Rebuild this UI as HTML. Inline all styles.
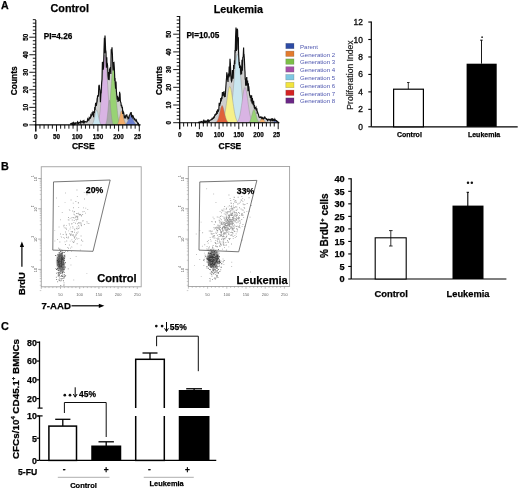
<!DOCTYPE html>
<html><head><meta charset="utf-8"><style>
html,body{margin:0;padding:0;background:#fff;}
svg{display:block;font-family:"Liberation Sans", sans-serif;will-change:transform;}
text{color:#000;}
text[font-weight="bold"]{stroke:currentColor;stroke-width:0.25px;}
</style></head><body>
<svg width="520" height="488" viewBox="0 0 520 488">
<text x="1.0" y="8.7" font-size="10.6" font-weight="bold" text-anchor="start" fill="#000">A</text>
<text x="1.0" y="169.6" font-size="10.8" font-weight="bold" text-anchor="start" fill="#000">B</text>
<text x="1.0" y="330.4" font-size="10.8" font-weight="bold" text-anchor="start" fill="#000">C</text>
<path d="M70.0 124.9L70.0 124.0L70.4 123.9L70.8 123.8L71.2 123.7L71.6 123.9L72.0 123.3L72.4 124.2L72.8 123.4L73.2 124.3L73.6 122.7L74.0 123.3L74.4 124.5L74.8 124.2L75.0 123.5L75.2 124.0L75.6 123.7L76.0 122.8L76.4 123.0L76.8 122.9L77.2 123.4L77.6 121.8L78.0 122.3L78.4 123.4L78.8 123.6L79.2 122.6L79.6 122.5L80.0 122.5L80.4 121.4L80.8 123.1L81.2 121.7L81.6 121.5L82.0 122.0L82.4 121.6L82.8 122.2L83.2 120.3L83.6 122.1L84.0 121.0L84.4 122.4L84.8 121.5L85.2 121.6L85.6 121.8L86.0 122.0L86.4 121.8L86.8 121.8L87.2 121.6L87.6 119.2L88.0 120.0L88.4 119.4L88.8 120.0L89.2 117.8L89.6 118.6L90.0 118.0L90.4 118.1L90.8 115.3L91.2 116.2L91.6 115.2L92.0 113.6L92.1 112.4L92.4 113.8L92.8 112.5L93.2 114.4L93.5 116.0L93.6 117.1L94.0 111.1L94.4 112.9L94.8 107.0L95.0 108.0L95.2 108.4L95.6 102.8L96.0 105.2L96.4 105.4L96.8 102.7L97.0 100.0L97.2 100.4L97.6 95.2L98.0 96.5L98.4 96.1L98.8 86.2L99.2 84.8L99.6 88.5L100.0 90.3L100.3 98.0L100.4 102.2L100.8 93.9L101.2 92.7L101.5 85.0L101.6 83.0L102.0 79.2L102.4 62.0L102.5 70.0L102.8 61.8L103.2 69.7L103.6 66.8L104.0 50.0L104.4 37.7L104.8 53.2L105.0 35.6L105.2 39.1L105.6 49.8L106.0 52.0L106.4 67.8L106.8 57.3L107.0 66.0L107.2 62.8L107.6 65.8L108.0 76.0L108.4 79.8L108.8 72.0L109.0 80.0L109.2 79.3L109.6 68.6L110.0 69.8L110.4 67.0L110.5 68.0L110.8 73.9L111.2 49.3L111.6 52.0L112.0 47.3L112.2 51.5L112.4 54.1L112.8 66.2L113.2 70.5L113.5 62.0L113.6 63.9L114.0 63.2L114.4 68.7L114.8 81.0L115.0 78.0L115.2 82.8L115.6 88.6L116.0 81.6L116.4 91.1L116.5 92.0L116.8 95.7L117.2 99.8L117.6 95.9L118.0 102.0L118.4 97.3L118.8 98.4L119.2 100.9L119.6 91.7L119.8 95.0L120.0 93.4L120.4 101.6L120.8 102.4L121.0 103.0L121.2 106.2L121.6 104.8L122.0 108.1L122.4 106.7L122.8 114.0L123.0 112.0L123.2 111.6L123.6 112.5L124.0 114.7L124.4 117.7L124.8 117.4L125.0 117.0L125.2 116.4L125.6 118.5L126.0 116.2L126.4 115.6L126.8 114.4L127.0 116.0L127.2 116.2L127.6 117.4L128.0 118.7L128.4 117.8L128.5 118.0L128.8 118.2L129.2 115.9L129.6 114.9L130.0 114.8L130.4 113.1L130.8 113.2L131.2 112.1L131.6 116.5L132.0 116.0L132.4 115.6L132.8 117.4L133.2 116.4L133.6 117.4L134.0 119.0L134.4 119.6L134.8 118.9L135.2 119.6L135.6 120.4L136.0 121.0L136.4 120.2L136.8 121.6L137.2 122.1L137.5 123.0L137.6 123.1L138.0 123.8L138.4 123.4L138.8 124.9L139.0 124.4L139.0 124.9Z" fill="#cfcfcf" stroke="none"/>
<path d="M96.8 124.9L96.8 124.1L97.2 123.7L97.7 123.1L98.1 122.2L98.5 120.9L98.9 119.3L99.3 117.1L99.7 114.3L100.1 110.9L100.5 106.7L100.9 101.9L101.3 96.4L101.7 90.4L102.1 84.1L102.5 77.7L102.9 71.6L103.3 66.0L103.7 61.3L104.1 57.7L104.5 55.6L104.9 55.0L105.3 56.0L105.7 58.5L106.1 62.4L106.5 67.3L106.9 73.1L107.3 79.3L107.7 85.7L108.1 91.9L108.5 97.8L108.9 103.2L109.3 107.8L109.7 111.8L110.1 115.1L110.5 117.7L110.9 119.7L111.3 121.3L111.7 122.4L112.1 123.2L112.5 123.8L112.5 124.9Z" fill="#d9b4e4" stroke="#888" stroke-width="0.4"/>
<path d="M106.1 124.9L106.1 124.2L106.5 123.8L106.9 123.2L107.3 122.3L107.7 121.0L108.1 119.3L108.5 116.9L108.9 113.9L109.3 110.2L109.7 105.8L110.1 100.7L110.5 95.1L110.9 89.2L111.3 83.3L111.7 77.7L112.1 72.9L112.5 69.2L112.9 66.8L113.3 66.0L113.7 66.8L114.1 69.2L114.5 72.9L114.9 77.7L115.3 83.3L115.7 89.2L116.1 95.1L116.5 100.7L116.9 105.8L117.3 110.2L117.7 113.9L118.1 116.9L118.5 119.3L118.9 121.0L119.3 122.3L119.7 123.2L120.1 123.8L120.5 124.2L120.5 124.9Z" fill="#98d274" stroke="#888" stroke-width="0.4"/>
<path d="M105.2 124.9L105.2 124.6L105.6 124.3L106.0 123.6L106.4 122.4L106.8 120.5L107.2 117.7L107.6 114.0L108.0 109.8L108.4 105.6L108.8 102.2L109.2 100.3L109.6 100.3L110.0 102.2L110.4 105.6L110.8 109.8L111.2 114.0L111.6 117.7L112.0 120.5L112.4 122.4L112.8 123.6L113.2 124.3L113.6 124.6L113.6 124.9Z" fill="#a8a8a8" stroke="#888" stroke-width="0.4"/>
<path d="M91.2 124.9L91.2 124.7L91.6 124.6L92.0 124.3L92.4 123.9L92.8 123.3L93.2 122.4L93.6 121.2L94.0 119.7L94.4 117.8L94.8 115.9L95.2 113.9L95.6 112.1L96.0 110.8L96.4 110.1L96.8 110.1L97.2 110.8L97.6 112.1L98.0 113.9L98.4 115.9L98.8 117.8L99.2 119.7L99.6 121.2L100.0 122.4L100.4 123.3L100.8 123.9L101.2 124.3L101.6 124.6L102.0 124.7L102.0 124.9Z" fill="#c9e6f0" stroke="#888" stroke-width="0.4"/>
<path d="M116.2 124.9L116.2 124.7L116.6 124.6L117.0 124.4L117.4 124.0L117.8 123.4L118.2 122.5L118.6 121.4L119.0 119.9L119.4 118.2L119.8 116.3L120.2 114.5L120.6 112.8L121.0 111.6L121.4 110.9L121.8 110.9L122.2 111.6L122.6 112.8L123.0 114.5L123.4 116.3L123.8 118.2L124.2 119.9L124.6 121.4L125.0 122.5L125.4 123.4L125.8 124.0L126.2 124.4L126.6 124.6L127.0 124.7L127.0 124.9Z" fill="#f3ad6a" stroke="#888" stroke-width="0.4"/>
<path d="M124.2 124.9L124.2 124.8L124.6 124.7L125.0 124.6L125.4 124.4L125.8 124.1L126.2 123.8L126.6 123.3L127.0 122.6L127.4 121.8L127.8 120.9L128.2 119.9L128.6 118.8L129.0 117.7L129.4 116.7L129.8 115.8L130.2 115.2L130.6 114.8L131.0 114.8L131.4 115.2L131.8 115.8L132.2 116.7L132.6 117.7L133.0 118.8L133.4 119.9L133.8 120.9L134.2 121.8L134.6 122.6L135.0 123.3L135.4 123.8L135.8 124.1L136.2 124.4L136.6 124.6L137.0 124.7L137.4 124.8L137.4 124.9Z" fill="#6b7fd0" stroke="#888" stroke-width="0.4"/>
<path d="M70.0 124.0L70.4 123.9L70.8 123.8L71.2 123.7L71.6 123.9L72.0 123.3L72.4 124.2L72.8 123.4L73.2 124.3L73.6 122.7L74.0 123.3L74.4 124.5L74.8 124.2L75.0 123.5L75.2 124.0L75.6 123.7L76.0 122.8L76.4 123.0L76.8 122.9L77.2 123.4L77.6 121.8L78.0 122.3L78.4 123.4L78.8 123.6L79.2 122.6L79.6 122.5L80.0 122.5L80.4 121.4L80.8 123.1L81.2 121.7L81.6 121.5L82.0 122.0L82.4 121.6L82.8 122.2L83.2 120.3L83.6 122.1L84.0 121.0L84.4 122.4L84.8 121.5L85.2 121.6L85.6 121.8L86.0 122.0L86.4 121.8L86.8 121.8L87.2 121.6L87.6 119.2L88.0 120.0L88.4 119.4L88.8 120.0L89.2 117.8L89.6 118.6L90.0 118.0L90.4 118.1L90.8 115.3L91.2 116.2L91.6 115.2L92.0 113.6L92.1 112.4L92.4 113.8L92.8 112.5L93.2 114.4L93.5 116.0L93.6 117.1L94.0 111.1L94.4 112.9L94.8 107.0L95.0 108.0L95.2 108.4L95.6 102.8L96.0 105.2L96.4 105.4L96.8 102.7L97.0 100.0L97.2 100.4L97.6 95.2L98.0 96.5L98.4 96.1L98.8 86.2L99.2 84.8L99.6 88.5L100.0 90.3L100.3 98.0L100.4 102.2L100.8 93.9L101.2 92.7L101.5 85.0L101.6 83.0L102.0 79.2L102.4 62.0L102.5 70.0L102.8 61.8L103.2 69.7L103.6 66.8L104.0 50.0L104.4 37.7L104.8 53.2L105.0 35.6L105.2 39.1L105.6 49.8L106.0 52.0L106.4 67.8L106.8 57.3L107.0 66.0L107.2 62.8L107.6 65.8L108.0 76.0L108.4 79.8L108.8 72.0L109.0 80.0L109.2 79.3L109.6 68.6L110.0 69.8L110.4 67.0L110.5 68.0L110.8 73.9L111.2 49.3L111.6 52.0L112.0 47.3L112.2 51.5L112.4 54.1L112.8 66.2L113.2 70.5L113.5 62.0L113.6 63.9L114.0 63.2L114.4 68.7L114.8 81.0L115.0 78.0L115.2 82.8L115.6 88.6L116.0 81.6L116.4 91.1L116.5 92.0L116.8 95.7L117.2 99.8L117.6 95.9L118.0 102.0L118.4 97.3L118.8 98.4L119.2 100.9L119.6 91.7L119.8 95.0L120.0 93.4L120.4 101.6L120.8 102.4L121.0 103.0L121.2 106.2L121.6 104.8L122.0 108.1L122.4 106.7L122.8 114.0L123.0 112.0L123.2 111.6L123.6 112.5L124.0 114.7L124.4 117.7L124.8 117.4L125.0 117.0L125.2 116.4L125.6 118.5L126.0 116.2L126.4 115.6L126.8 114.4L127.0 116.0L127.2 116.2L127.6 117.4L128.0 118.7L128.4 117.8L128.5 118.0L128.8 118.2L129.2 115.9L129.6 114.9L130.0 114.8L130.4 113.1L130.8 113.2L131.2 112.1L131.6 116.5L132.0 116.0L132.4 115.6L132.8 117.4L133.2 116.4L133.6 117.4L134.0 119.0L134.4 119.6L134.8 118.9L135.2 119.6L135.6 120.4L136.0 121.0L136.4 120.2L136.8 121.6L137.2 122.1L137.5 123.0L137.6 123.1L138.0 123.8L138.4 123.4L138.8 124.9L139.0 124.4" fill="none" stroke="#111" stroke-width="1.15"/>
<line x1="35.8" y1="20" x2="35.8" y2="131.4" stroke="#000" stroke-width="1.1"/>
<line x1="34.8" y1="124.9" x2="140.54199999999997" y2="124.9" stroke="#000" stroke-width="1.1"/>
<line x1="29.299999999999997" y1="124.9" x2="35.8" y2="124.9" stroke="#000" stroke-width="0.9"/>
<line x1="32.8" y1="121.39200000000001" x2="35.8" y2="121.39200000000001" stroke="#000" stroke-width="0.9"/>
<line x1="32.8" y1="117.884" x2="35.8" y2="117.884" stroke="#000" stroke-width="0.9"/>
<line x1="32.8" y1="114.376" x2="35.8" y2="114.376" stroke="#000" stroke-width="0.9"/>
<line x1="32.8" y1="110.86800000000001" x2="35.8" y2="110.86800000000001" stroke="#000" stroke-width="0.9"/>
<line x1="29.299999999999997" y1="107.36000000000001" x2="35.8" y2="107.36000000000001" stroke="#000" stroke-width="0.9"/>
<line x1="32.8" y1="103.852" x2="35.8" y2="103.852" stroke="#000" stroke-width="0.9"/>
<line x1="32.8" y1="100.34400000000001" x2="35.8" y2="100.34400000000001" stroke="#000" stroke-width="0.9"/>
<line x1="32.8" y1="96.83600000000001" x2="35.8" y2="96.83600000000001" stroke="#000" stroke-width="0.9"/>
<line x1="32.8" y1="93.328" x2="35.8" y2="93.328" stroke="#000" stroke-width="0.9"/>
<line x1="29.299999999999997" y1="89.82000000000001" x2="35.8" y2="89.82000000000001" stroke="#000" stroke-width="0.9"/>
<line x1="32.8" y1="86.31200000000001" x2="35.8" y2="86.31200000000001" stroke="#000" stroke-width="0.9"/>
<line x1="32.8" y1="82.804" x2="35.8" y2="82.804" stroke="#000" stroke-width="0.9"/>
<line x1="32.8" y1="79.296" x2="35.8" y2="79.296" stroke="#000" stroke-width="0.9"/>
<line x1="32.8" y1="75.78800000000001" x2="35.8" y2="75.78800000000001" stroke="#000" stroke-width="0.9"/>
<line x1="29.299999999999997" y1="72.28" x2="35.8" y2="72.28" stroke="#000" stroke-width="0.9"/>
<line x1="32.8" y1="68.772" x2="35.8" y2="68.772" stroke="#000" stroke-width="0.9"/>
<line x1="32.8" y1="65.26400000000001" x2="35.8" y2="65.26400000000001" stroke="#000" stroke-width="0.9"/>
<line x1="32.8" y1="61.75600000000001" x2="35.8" y2="61.75600000000001" stroke="#000" stroke-width="0.9"/>
<line x1="32.8" y1="58.248000000000005" x2="35.8" y2="58.248000000000005" stroke="#000" stroke-width="0.9"/>
<line x1="29.299999999999997" y1="54.74000000000001" x2="35.8" y2="54.74000000000001" stroke="#000" stroke-width="0.9"/>
<line x1="32.8" y1="51.232" x2="35.8" y2="51.232" stroke="#000" stroke-width="0.9"/>
<line x1="32.8" y1="47.724000000000004" x2="35.8" y2="47.724000000000004" stroke="#000" stroke-width="0.9"/>
<line x1="32.8" y1="44.21600000000001" x2="35.8" y2="44.21600000000001" stroke="#000" stroke-width="0.9"/>
<line x1="32.8" y1="40.708" x2="35.8" y2="40.708" stroke="#000" stroke-width="0.9"/>
<line x1="29.299999999999997" y1="37.2" x2="35.8" y2="37.2" stroke="#000" stroke-width="0.9"/>
<line x1="32.8" y1="33.69200000000001" x2="35.8" y2="33.69200000000001" stroke="#000" stroke-width="0.9"/>
<line x1="32.8" y1="30.18400000000001" x2="35.8" y2="30.18400000000001" stroke="#000" stroke-width="0.9"/>
<line x1="32.8" y1="26.676000000000002" x2="35.8" y2="26.676000000000002" stroke="#000" stroke-width="0.9"/>
<line x1="32.8" y1="23.168000000000006" x2="35.8" y2="23.168000000000006" stroke="#000" stroke-width="0.9"/>
<line x1="32.8" y1="19.66000000000001" x2="35.8" y2="19.66000000000001" stroke="#000" stroke-width="0.9"/>
<text x="28.199999999999996" y="124.9" font-size="6.3" font-weight="bold" text-anchor="middle" fill="#000" transform="rotate(-90 28.199999999999996 124.9)">0</text>
<text x="28.199999999999996" y="107.36000000000001" font-size="6.3" font-weight="bold" text-anchor="middle" fill="#000" transform="rotate(-90 28.199999999999996 107.36000000000001)">10</text>
<text x="28.199999999999996" y="89.82000000000001" font-size="6.3" font-weight="bold" text-anchor="middle" fill="#000" transform="rotate(-90 28.199999999999996 89.82000000000001)">20</text>
<text x="28.199999999999996" y="72.28" font-size="6.3" font-weight="bold" text-anchor="middle" fill="#000" transform="rotate(-90 28.199999999999996 72.28)">30</text>
<text x="28.199999999999996" y="54.74000000000001" font-size="6.3" font-weight="bold" text-anchor="middle" fill="#000" transform="rotate(-90 28.199999999999996 54.74000000000001)">40</text>
<text x="28.199999999999996" y="37.2" font-size="6.3" font-weight="bold" text-anchor="middle" fill="#000" transform="rotate(-90 28.199999999999996 37.2)">50</text>
<line x1="35.8" y1="124.9" x2="35.8" y2="131.4" stroke="#000" stroke-width="0.9"/>
<line x1="39.94" y1="124.9" x2="39.94" y2="128.70000000000002" stroke="#000" stroke-width="0.9"/>
<line x1="44.08" y1="124.9" x2="44.08" y2="128.70000000000002" stroke="#000" stroke-width="0.9"/>
<line x1="48.22" y1="124.9" x2="48.22" y2="128.70000000000002" stroke="#000" stroke-width="0.9"/>
<line x1="52.36" y1="124.9" x2="52.36" y2="128.70000000000002" stroke="#000" stroke-width="0.9"/>
<line x1="56.5" y1="124.9" x2="56.5" y2="131.4" stroke="#000" stroke-width="0.9"/>
<line x1="60.64" y1="124.9" x2="60.64" y2="128.70000000000002" stroke="#000" stroke-width="0.9"/>
<line x1="64.78" y1="124.9" x2="64.78" y2="128.70000000000002" stroke="#000" stroke-width="0.9"/>
<line x1="68.91999999999999" y1="124.9" x2="68.91999999999999" y2="128.70000000000002" stroke="#000" stroke-width="0.9"/>
<line x1="73.06" y1="124.9" x2="73.06" y2="128.70000000000002" stroke="#000" stroke-width="0.9"/>
<line x1="77.19999999999999" y1="124.9" x2="77.19999999999999" y2="131.4" stroke="#000" stroke-width="0.9"/>
<line x1="81.34" y1="124.9" x2="81.34" y2="128.70000000000002" stroke="#000" stroke-width="0.9"/>
<line x1="85.47999999999999" y1="124.9" x2="85.47999999999999" y2="128.70000000000002" stroke="#000" stroke-width="0.9"/>
<line x1="89.62" y1="124.9" x2="89.62" y2="128.70000000000002" stroke="#000" stroke-width="0.9"/>
<line x1="93.75999999999999" y1="124.9" x2="93.75999999999999" y2="128.70000000000002" stroke="#000" stroke-width="0.9"/>
<line x1="97.89999999999999" y1="124.9" x2="97.89999999999999" y2="131.4" stroke="#000" stroke-width="0.9"/>
<line x1="102.03999999999999" y1="124.9" x2="102.03999999999999" y2="128.70000000000002" stroke="#000" stroke-width="0.9"/>
<line x1="106.17999999999999" y1="124.9" x2="106.17999999999999" y2="128.70000000000002" stroke="#000" stroke-width="0.9"/>
<line x1="110.32" y1="124.9" x2="110.32" y2="128.70000000000002" stroke="#000" stroke-width="0.9"/>
<line x1="114.46" y1="124.9" x2="114.46" y2="128.70000000000002" stroke="#000" stroke-width="0.9"/>
<line x1="118.6" y1="124.9" x2="118.6" y2="131.4" stroke="#000" stroke-width="0.9"/>
<line x1="122.74" y1="124.9" x2="122.74" y2="128.70000000000002" stroke="#000" stroke-width="0.9"/>
<line x1="126.88" y1="124.9" x2="126.88" y2="128.70000000000002" stroke="#000" stroke-width="0.9"/>
<line x1="131.01999999999998" y1="124.9" x2="131.01999999999998" y2="128.70000000000002" stroke="#000" stroke-width="0.9"/>
<line x1="135.16" y1="124.9" x2="135.16" y2="128.70000000000002" stroke="#000" stroke-width="0.9"/>
<line x1="139.3" y1="124.9" x2="139.3" y2="131.4" stroke="#000" stroke-width="0.9"/>
<text x="35.8" y="138.6" font-size="6.3" font-weight="bold" text-anchor="middle" fill="#000">0</text>
<text x="56.5" y="138.6" font-size="6.3" font-weight="bold" text-anchor="middle" fill="#000">50</text>
<text x="77.19999999999999" y="138.6" font-size="6.3" font-weight="bold" text-anchor="middle" fill="#000">100</text>
<text x="97.89999999999999" y="138.6" font-size="6.3" font-weight="bold" text-anchor="middle" fill="#000">150</text>
<text x="118.6" y="138.6" font-size="6.3" font-weight="bold" text-anchor="middle" fill="#000">200</text>
<text x="137.5" y="138.6" font-size="6.3" font-weight="bold" text-anchor="middle" fill="#000">25</text>
<text x="83.3" y="148.5" font-size="8.5" font-weight="bold" text-anchor="middle" fill="#000">CFSE</text>
<text x="16.9" y="80.8" font-size="8.4" font-weight="bold" text-anchor="middle" fill="#000" transform="rotate(-90 16.9 80.8)">Counts</text>
<text x="69.7" y="12.3" font-size="10.8" font-weight="bold" text-anchor="middle" fill="#000">Control</text>
<text x="43.8" y="39.0" font-size="8.2" font-weight="bold" text-anchor="start" fill="#000">PI=4.26</text>
<path d="M198.0 122.7L198.0 122.6L198.4 122.3L198.8 122.7L199.2 122.7L199.6 121.9L200.0 122.1L200.4 122.0L200.8 122.3L201.2 121.5L201.6 121.6L202.0 121.8L202.4 122.1L202.8 122.5L203.2 121.3L203.6 122.4L204.0 120.8L204.4 121.9L204.8 122.0L205.0 121.5L205.2 121.9L205.6 122.0L206.0 121.0L206.4 121.4L206.8 121.1L207.2 121.9L207.6 120.1L208.0 120.3L208.4 121.1L208.8 120.3L209.2 121.4L209.6 120.7L210.0 120.5L210.4 119.9L210.8 119.8L211.2 119.6L211.6 119.6L212.0 118.6L212.4 119.0L212.8 118.4L213.0 118.0L213.2 118.9L213.6 117.3L214.0 117.7L214.4 117.2L214.8 114.9L215.2 114.4L215.6 114.8L216.0 114.0L216.4 114.2L216.8 110.8L217.2 113.9L217.6 109.9L218.0 110.0L218.4 110.9L218.8 109.9L219.2 102.8L219.6 105.9L220.0 104.0L220.4 103.2L220.8 98.0L221.2 101.4L221.5 98.0L221.6 97.7L222.0 98.1L222.4 92.1L222.8 95.8L223.2 94.8L223.5 92.3L223.6 92.1L224.0 91.8L224.4 97.1L224.8 93.4L225.0 96.0L225.2 97.0L225.6 90.6L226.0 84.8L226.4 79.0L226.5 79.0L226.8 72.3L227.2 76.6L227.6 79.2L228.0 82.0L228.4 73.6L228.8 77.5L229.2 66.4L229.6 76.5L229.8 65.4L230.0 58.8L230.4 63.2L230.8 74.0L231.0 77.0L231.2 80.2L231.6 81.4L232.0 80.0L232.4 69.9L232.8 73.8L233.2 78.8L233.5 70.0L233.6 64.9L234.0 68.9L234.4 61.8L234.8 62.4L235.0 50.0L235.2 52.8L235.6 36.6L236.0 27.6L236.4 51.1L236.8 34.9L237.2 28.7L237.6 30.2L238.0 49.7L238.4 37.3L238.5 50.0L238.8 57.4L239.2 65.4L239.5 62.0L239.6 68.1L240.0 65.4L240.4 66.3L240.8 74.6L241.2 66.5L241.5 70.0L241.6 74.3L242.0 59.7L242.4 70.7L242.8 57.5L243.2 56.7L243.6 47.6L243.9 57.0L244.0 54.4L244.4 59.2L244.8 69.5L245.0 72.0L245.2 79.1L245.5 80.0L245.6 84.4L246.0 85.8L246.4 78.3L246.8 77.1L247.0 84.0L247.2 85.5L247.6 80.6L248.0 91.3L248.4 83.2L248.5 88.0L248.8 86.4L249.2 90.8L249.6 95.0L250.0 96.0L250.4 98.0L250.8 95.4L251.2 101.4L251.5 99.0L251.6 95.3L252.0 103.4L252.4 98.0L252.8 103.1L253.0 103.0L253.2 105.2L253.6 100.8L254.0 105.6L254.4 108.2L254.5 105.0L254.8 109.1L255.2 107.9L255.6 108.6L256.0 107.7L256.4 110.7L256.8 108.2L257.2 112.5L257.5 112.0L257.6 112.3L258.0 113.3L258.4 114.2L258.8 116.1L259.0 117.0L259.2 117.0L259.6 117.4L260.0 117.5L260.4 116.9L260.8 117.0L261.0 118.0L261.2 116.9L261.6 118.1L262.0 117.2L262.4 117.6L262.8 119.0L263.0 117.5L263.2 119.0L263.6 119.0L264.0 118.2L264.4 117.0L264.8 116.9L265.2 118.3L265.6 118.1L266.0 118.5L266.4 119.3L266.8 118.9L267.2 119.6L267.6 120.6L268.0 120.0L268.4 119.2L268.8 119.1L269.2 119.8L269.6 119.5L270.0 120.0L270.4 119.6L270.8 120.8L271.2 119.4L271.6 119.0L272.0 120.0L272.4 118.4L272.8 120.0L273.0 119.5L273.2 119.4L273.6 120.3L274.0 119.8L274.4 120.3L274.8 119.3L275.2 120.6L275.6 120.3L276.0 120.5L276.4 121.2L276.8 120.9L277.2 121.5L277.6 121.9L278.0 122.0L278.4 122.2L278.8 122.6L279.0 122.6L279.0 122.7Z" fill="#cfcfcf" stroke="none"/>
<path d="M227.0 122.7L227.0 121.9L227.4 121.6L227.8 121.2L228.2 120.7L228.6 120.0L229.0 119.1L229.4 118.0L229.8 116.6L230.2 114.9L230.6 112.9L231.0 110.5L231.4 107.7L231.8 104.5L232.2 100.9L232.6 96.9L233.0 92.6L233.4 88.1L233.8 83.4L234.2 78.7L234.6 74.0L235.0 69.5L235.4 65.3L235.8 61.6L236.2 58.6L236.6 56.2L237.0 54.7L237.4 54.0L237.8 54.3L238.2 55.4L238.6 57.3L239.0 60.0L239.4 63.4L239.8 67.3L240.2 71.7L240.6 76.3L241.0 81.0L241.4 85.8L241.8 90.4L242.2 94.8L242.6 98.9L243.0 102.7L243.4 106.1L243.8 109.1L244.2 111.7L244.6 113.9L245.0 115.8L245.4 117.3L245.8 118.6L246.2 119.6L246.6 120.4L247.0 121.0L247.4 121.4L247.8 121.8L247.8 122.7Z" fill="#c9e6f0" stroke="#888" stroke-width="0.4"/>
<path d="M220.8 122.7L220.8 122.3L221.2 122.1L221.6 121.8L222.0 121.5L222.4 121.0L222.8 120.3L223.2 119.5L223.6 118.4L224.0 117.1L224.4 115.5L224.8 113.7L225.2 111.5L225.6 109.1L226.0 106.5L226.4 103.7L226.8 100.7L227.2 97.8L227.6 95.0L228.0 92.5L228.4 90.2L228.8 88.5L229.2 87.2L229.6 86.6L230.0 86.6L230.4 87.2L230.8 88.5L231.2 90.2L231.6 92.5L232.0 95.0L232.4 97.8L232.8 100.7L233.2 103.7L233.6 106.5L234.0 109.1L234.4 111.5L234.8 113.7L235.2 115.5L235.6 117.1L236.0 118.4L236.4 119.5L236.8 120.3L237.2 121.0L237.6 121.5L238.0 121.8L238.4 122.1L238.8 122.3L238.8 122.7Z" fill="#f6f08a" stroke="#888" stroke-width="0.4"/>
<path d="M236.3 122.7L236.3 122.3L236.7 122.1L237.1 121.8L237.5 121.5L237.9 120.9L238.3 120.3L238.7 119.4L239.1 118.3L239.5 116.9L239.9 115.2L240.3 113.2L240.7 111.0L241.1 108.4L241.5 105.7L241.9 102.8L242.3 99.9L242.7 97.0L243.1 94.3L243.5 91.9L243.9 89.9L244.3 88.5L244.7 87.7L245.1 87.5L245.5 88.0L245.9 89.2L246.3 90.9L246.7 93.1L247.1 95.6L247.5 98.4L247.9 101.4L248.3 104.3L248.7 107.1L249.1 109.7L249.5 112.1L249.9 114.3L250.3 116.1L250.7 117.6L251.1 118.8L251.5 119.8L251.9 120.6L252.3 121.2L252.7 121.7L253.1 122.0L253.5 122.2L253.5 122.7Z" fill="#d9b4e4" stroke="#888" stroke-width="0.4"/>
<path d="M215.2 122.7L215.2 122.5L215.6 122.4L216.0 122.2L216.4 121.9L216.8 121.5L217.2 120.9L217.6 120.2L218.0 119.2L218.4 118.0L218.8 116.6L219.2 114.9L219.6 113.2L220.0 111.4L220.4 109.6L220.8 108.0L221.2 106.8L221.6 105.9L222.0 105.5L222.4 105.6L222.8 106.3L223.2 107.4L223.6 108.8L224.0 110.5L224.4 112.3L224.8 114.1L225.2 115.8L225.6 117.3L226.0 118.6L226.4 119.7L226.8 120.6L227.2 121.2L227.6 121.7L228.0 122.1L228.4 122.3L228.8 122.5L228.8 122.7Z" fill="#e0603a" stroke="#888" stroke-width="0.4"/>
<path d="M248.0 122.7L248.0 122.6L248.4 122.4L248.8 122.2L249.2 122.0L249.6 121.5L250.0 120.9L250.4 120.1L250.8 119.0L251.2 117.7L251.6 116.2L252.0 114.6L252.4 113.0L252.8 111.6L253.2 110.4L253.6 109.7L254.0 109.4L254.4 109.7L254.8 110.4L255.2 111.6L255.6 113.0L256.0 114.6L256.4 116.2L256.8 117.7L257.2 119.0L257.6 120.1L258.0 120.9L258.4 121.5L258.8 122.0L259.2 122.2L259.6 122.4L260.0 122.6L260.0 122.7Z" fill="#98d274" stroke="#888" stroke-width="0.4"/>
<path d="M257.5 122.7L257.5 122.6L257.9 122.6L258.3 122.5L258.7 122.3L259.1 122.1L259.5 121.7L259.9 121.2L260.3 120.5L260.7 119.8L261.1 119.2L261.5 118.6L261.9 118.1L262.3 118.0L262.7 118.1L263.1 118.6L263.5 119.2L263.9 119.8L264.3 120.5L264.7 121.2L265.1 121.7L265.5 122.1L265.9 122.3L266.3 122.5L266.7 122.6L267.1 122.6L267.1 122.7Z" fill="#f3ad6a" stroke="#888" stroke-width="0.4"/>
<path d="M271.6 122.7L271.6 122.7L272.0 122.6L272.4 122.5L272.8 122.3L273.2 122.0L273.6 121.6L274.0 121.1L274.4 120.5L274.8 119.9L275.2 119.6L275.6 119.5L276.0 119.7L276.4 120.2L276.8 120.8L277.2 121.3L277.6 121.8L278.0 122.2L278.4 122.4L278.8 122.6L279.2 122.6L279.2 122.7Z" fill="#6b7fd0" stroke="#888" stroke-width="0.4"/>
<path d="M198.0 122.6L198.4 122.3L198.8 122.7L199.2 122.7L199.6 121.9L200.0 122.1L200.4 122.0L200.8 122.3L201.2 121.5L201.6 121.6L202.0 121.8L202.4 122.1L202.8 122.5L203.2 121.3L203.6 122.4L204.0 120.8L204.4 121.9L204.8 122.0L205.0 121.5L205.2 121.9L205.6 122.0L206.0 121.0L206.4 121.4L206.8 121.1L207.2 121.9L207.6 120.1L208.0 120.3L208.4 121.1L208.8 120.3L209.2 121.4L209.6 120.7L210.0 120.5L210.4 119.9L210.8 119.8L211.2 119.6L211.6 119.6L212.0 118.6L212.4 119.0L212.8 118.4L213.0 118.0L213.2 118.9L213.6 117.3L214.0 117.7L214.4 117.2L214.8 114.9L215.2 114.4L215.6 114.8L216.0 114.0L216.4 114.2L216.8 110.8L217.2 113.9L217.6 109.9L218.0 110.0L218.4 110.9L218.8 109.9L219.2 102.8L219.6 105.9L220.0 104.0L220.4 103.2L220.8 98.0L221.2 101.4L221.5 98.0L221.6 97.7L222.0 98.1L222.4 92.1L222.8 95.8L223.2 94.8L223.5 92.3L223.6 92.1L224.0 91.8L224.4 97.1L224.8 93.4L225.0 96.0L225.2 97.0L225.6 90.6L226.0 84.8L226.4 79.0L226.5 79.0L226.8 72.3L227.2 76.6L227.6 79.2L228.0 82.0L228.4 73.6L228.8 77.5L229.2 66.4L229.6 76.5L229.8 65.4L230.0 58.8L230.4 63.2L230.8 74.0L231.0 77.0L231.2 80.2L231.6 81.4L232.0 80.0L232.4 69.9L232.8 73.8L233.2 78.8L233.5 70.0L233.6 64.9L234.0 68.9L234.4 61.8L234.8 62.4L235.0 50.0L235.2 52.8L235.6 36.6L236.0 27.6L236.4 51.1L236.8 34.9L237.2 28.7L237.6 30.2L238.0 49.7L238.4 37.3L238.5 50.0L238.8 57.4L239.2 65.4L239.5 62.0L239.6 68.1L240.0 65.4L240.4 66.3L240.8 74.6L241.2 66.5L241.5 70.0L241.6 74.3L242.0 59.7L242.4 70.7L242.8 57.5L243.2 56.7L243.6 47.6L243.9 57.0L244.0 54.4L244.4 59.2L244.8 69.5L245.0 72.0L245.2 79.1L245.5 80.0L245.6 84.4L246.0 85.8L246.4 78.3L246.8 77.1L247.0 84.0L247.2 85.5L247.6 80.6L248.0 91.3L248.4 83.2L248.5 88.0L248.8 86.4L249.2 90.8L249.6 95.0L250.0 96.0L250.4 98.0L250.8 95.4L251.2 101.4L251.5 99.0L251.6 95.3L252.0 103.4L252.4 98.0L252.8 103.1L253.0 103.0L253.2 105.2L253.6 100.8L254.0 105.6L254.4 108.2L254.5 105.0L254.8 109.1L255.2 107.9L255.6 108.6L256.0 107.7L256.4 110.7L256.8 108.2L257.2 112.5L257.5 112.0L257.6 112.3L258.0 113.3L258.4 114.2L258.8 116.1L259.0 117.0L259.2 117.0L259.6 117.4L260.0 117.5L260.4 116.9L260.8 117.0L261.0 118.0L261.2 116.9L261.6 118.1L262.0 117.2L262.4 117.6L262.8 119.0L263.0 117.5L263.2 119.0L263.6 119.0L264.0 118.2L264.4 117.0L264.8 116.9L265.2 118.3L265.6 118.1L266.0 118.5L266.4 119.3L266.8 118.9L267.2 119.6L267.6 120.6L268.0 120.0L268.4 119.2L268.8 119.1L269.2 119.8L269.6 119.5L270.0 120.0L270.4 119.6L270.8 120.8L271.2 119.4L271.6 119.0L272.0 120.0L272.4 118.4L272.8 120.0L273.0 119.5L273.2 119.4L273.6 120.3L274.0 119.8L274.4 120.3L274.8 119.3L275.2 120.6L275.6 120.3L276.0 120.5L276.4 121.2L276.8 120.9L277.2 121.5L277.6 121.9L278.0 122.0L278.4 122.2L278.8 122.6L279.0 122.6" fill="none" stroke="#111" stroke-width="1.15"/>
<line x1="179.7" y1="16.1" x2="179.7" y2="129.2" stroke="#000" stroke-width="1.1"/>
<line x1="178.7" y1="122.7" x2="279.382" y2="122.7" stroke="#000" stroke-width="1.1"/>
<line x1="173.2" y1="122.7" x2="179.7" y2="122.7" stroke="#000" stroke-width="0.9"/>
<line x1="176.7" y1="119.16" x2="179.7" y2="119.16" stroke="#000" stroke-width="0.9"/>
<line x1="176.7" y1="115.62" x2="179.7" y2="115.62" stroke="#000" stroke-width="0.9"/>
<line x1="176.7" y1="112.08" x2="179.7" y2="112.08" stroke="#000" stroke-width="0.9"/>
<line x1="176.7" y1="108.54" x2="179.7" y2="108.54" stroke="#000" stroke-width="0.9"/>
<line x1="173.2" y1="105.0" x2="179.7" y2="105.0" stroke="#000" stroke-width="0.9"/>
<line x1="176.7" y1="101.46000000000001" x2="179.7" y2="101.46000000000001" stroke="#000" stroke-width="0.9"/>
<line x1="176.7" y1="97.92" x2="179.7" y2="97.92" stroke="#000" stroke-width="0.9"/>
<line x1="176.7" y1="94.38" x2="179.7" y2="94.38" stroke="#000" stroke-width="0.9"/>
<line x1="176.7" y1="90.84" x2="179.7" y2="90.84" stroke="#000" stroke-width="0.9"/>
<line x1="173.2" y1="87.30000000000001" x2="179.7" y2="87.30000000000001" stroke="#000" stroke-width="0.9"/>
<line x1="176.7" y1="83.76" x2="179.7" y2="83.76" stroke="#000" stroke-width="0.9"/>
<line x1="176.7" y1="80.22" x2="179.7" y2="80.22" stroke="#000" stroke-width="0.9"/>
<line x1="176.7" y1="76.68" x2="179.7" y2="76.68" stroke="#000" stroke-width="0.9"/>
<line x1="176.7" y1="73.14" x2="179.7" y2="73.14" stroke="#000" stroke-width="0.9"/>
<line x1="173.2" y1="69.6" x2="179.7" y2="69.6" stroke="#000" stroke-width="0.9"/>
<line x1="176.7" y1="66.06" x2="179.7" y2="66.06" stroke="#000" stroke-width="0.9"/>
<line x1="176.7" y1="62.52" x2="179.7" y2="62.52" stroke="#000" stroke-width="0.9"/>
<line x1="176.7" y1="58.980000000000004" x2="179.7" y2="58.980000000000004" stroke="#000" stroke-width="0.9"/>
<line x1="176.7" y1="55.44" x2="179.7" y2="55.44" stroke="#000" stroke-width="0.9"/>
<line x1="173.2" y1="51.900000000000006" x2="179.7" y2="51.900000000000006" stroke="#000" stroke-width="0.9"/>
<line x1="176.7" y1="48.36" x2="179.7" y2="48.36" stroke="#000" stroke-width="0.9"/>
<line x1="176.7" y1="44.82000000000001" x2="179.7" y2="44.82000000000001" stroke="#000" stroke-width="0.9"/>
<line x1="176.7" y1="41.28" x2="179.7" y2="41.28" stroke="#000" stroke-width="0.9"/>
<line x1="176.7" y1="37.739999999999995" x2="179.7" y2="37.739999999999995" stroke="#000" stroke-width="0.9"/>
<line x1="173.2" y1="34.2" x2="179.7" y2="34.2" stroke="#000" stroke-width="0.9"/>
<line x1="176.7" y1="30.659999999999997" x2="179.7" y2="30.659999999999997" stroke="#000" stroke-width="0.9"/>
<line x1="176.7" y1="27.120000000000005" x2="179.7" y2="27.120000000000005" stroke="#000" stroke-width="0.9"/>
<line x1="176.7" y1="23.58" x2="179.7" y2="23.58" stroke="#000" stroke-width="0.9"/>
<line x1="176.7" y1="20.040000000000006" x2="179.7" y2="20.040000000000006" stroke="#000" stroke-width="0.9"/>
<line x1="176.7" y1="16.5" x2="179.7" y2="16.5" stroke="#000" stroke-width="0.9"/>
<text x="171.39999999999998" y="122.7" font-size="6.3" font-weight="bold" text-anchor="middle" fill="#000" transform="rotate(-90 171.39999999999998 122.7)">0</text>
<text x="171.39999999999998" y="105.0" font-size="6.3" font-weight="bold" text-anchor="middle" fill="#000" transform="rotate(-90 171.39999999999998 105.0)">10</text>
<text x="171.39999999999998" y="87.30000000000001" font-size="6.3" font-weight="bold" text-anchor="middle" fill="#000" transform="rotate(-90 171.39999999999998 87.30000000000001)">20</text>
<text x="171.39999999999998" y="69.6" font-size="6.3" font-weight="bold" text-anchor="middle" fill="#000" transform="rotate(-90 171.39999999999998 69.6)">30</text>
<text x="171.39999999999998" y="51.900000000000006" font-size="6.3" font-weight="bold" text-anchor="middle" fill="#000" transform="rotate(-90 171.39999999999998 51.900000000000006)">40</text>
<text x="171.39999999999998" y="34.2" font-size="6.3" font-weight="bold" text-anchor="middle" fill="#000" transform="rotate(-90 171.39999999999998 34.2)">50</text>
<line x1="179.7" y1="122.7" x2="179.7" y2="129.2" stroke="#000" stroke-width="0.9"/>
<line x1="183.64" y1="122.7" x2="183.64" y2="126.5" stroke="#000" stroke-width="0.9"/>
<line x1="187.57999999999998" y1="122.7" x2="187.57999999999998" y2="126.5" stroke="#000" stroke-width="0.9"/>
<line x1="191.51999999999998" y1="122.7" x2="191.51999999999998" y2="126.5" stroke="#000" stroke-width="0.9"/>
<line x1="195.45999999999998" y1="122.7" x2="195.45999999999998" y2="126.5" stroke="#000" stroke-width="0.9"/>
<line x1="199.39999999999998" y1="122.7" x2="199.39999999999998" y2="129.2" stroke="#000" stroke-width="0.9"/>
<line x1="203.33999999999997" y1="122.7" x2="203.33999999999997" y2="126.5" stroke="#000" stroke-width="0.9"/>
<line x1="207.28" y1="122.7" x2="207.28" y2="126.5" stroke="#000" stroke-width="0.9"/>
<line x1="211.22" y1="122.7" x2="211.22" y2="126.5" stroke="#000" stroke-width="0.9"/>
<line x1="215.16" y1="122.7" x2="215.16" y2="126.5" stroke="#000" stroke-width="0.9"/>
<line x1="219.1" y1="122.7" x2="219.1" y2="129.2" stroke="#000" stroke-width="0.9"/>
<line x1="223.04" y1="122.7" x2="223.04" y2="126.5" stroke="#000" stroke-width="0.9"/>
<line x1="226.98" y1="122.7" x2="226.98" y2="126.5" stroke="#000" stroke-width="0.9"/>
<line x1="230.92" y1="122.7" x2="230.92" y2="126.5" stroke="#000" stroke-width="0.9"/>
<line x1="234.85999999999999" y1="122.7" x2="234.85999999999999" y2="126.5" stroke="#000" stroke-width="0.9"/>
<line x1="238.79999999999998" y1="122.7" x2="238.79999999999998" y2="129.2" stroke="#000" stroke-width="0.9"/>
<line x1="242.74" y1="122.7" x2="242.74" y2="126.5" stroke="#000" stroke-width="0.9"/>
<line x1="246.68" y1="122.7" x2="246.68" y2="126.5" stroke="#000" stroke-width="0.9"/>
<line x1="250.62" y1="122.7" x2="250.62" y2="126.5" stroke="#000" stroke-width="0.9"/>
<line x1="254.56" y1="122.7" x2="254.56" y2="126.5" stroke="#000" stroke-width="0.9"/>
<line x1="258.5" y1="122.7" x2="258.5" y2="129.2" stroke="#000" stroke-width="0.9"/>
<line x1="262.44" y1="122.7" x2="262.44" y2="126.5" stroke="#000" stroke-width="0.9"/>
<line x1="266.38" y1="122.7" x2="266.38" y2="126.5" stroke="#000" stroke-width="0.9"/>
<line x1="270.32" y1="122.7" x2="270.32" y2="126.5" stroke="#000" stroke-width="0.9"/>
<line x1="274.26" y1="122.7" x2="274.26" y2="126.5" stroke="#000" stroke-width="0.9"/>
<line x1="278.2" y1="122.7" x2="278.2" y2="129.2" stroke="#000" stroke-width="0.9"/>
<text x="179.7" y="136.6" font-size="6.3" font-weight="bold" text-anchor="middle" fill="#000">0</text>
<text x="199.39999999999998" y="136.6" font-size="6.3" font-weight="bold" text-anchor="middle" fill="#000">50</text>
<text x="219.1" y="136.6" font-size="6.3" font-weight="bold" text-anchor="middle" fill="#000">100</text>
<text x="238.79999999999998" y="136.6" font-size="6.3" font-weight="bold" text-anchor="middle" fill="#000">150</text>
<text x="258.5" y="136.6" font-size="6.3" font-weight="bold" text-anchor="middle" fill="#000">200</text>
<text x="276.4" y="136.6" font-size="6.3" font-weight="bold" text-anchor="middle" fill="#000">25</text>
<text x="229.9" y="148.5" font-size="8.5" font-weight="bold" text-anchor="middle" fill="#000">CFSE</text>
<text x="162.3" y="80.5" font-size="8.4" font-weight="bold" text-anchor="middle" fill="#000" transform="rotate(-90 162.3 80.5)">Counts</text>
<text x="238.35" y="12.6" font-size="10.7" font-weight="bold" text-anchor="middle" fill="#000">Leukemia</text>
<text x="186.4" y="37.9" font-size="8.2" font-weight="bold" text-anchor="start" fill="#000">PI=10.05</text>
<rect x="285.8" y="43.3" width="8.2" height="5.4" fill="#2d4ba5" stroke="#444" stroke-opacity="0.35" stroke-width="0.6"/>
<text x="300" y="48.699999999999996" font-size="6.1" text-anchor="start" fill="#5058b0">Parent</text>
<rect x="285.8" y="51.1" width="8.2" height="5.4" fill="#e27b2e" stroke="#444" stroke-opacity="0.35" stroke-width="0.6"/>
<text x="300" y="56.49999999999999" font-size="6.1" text-anchor="start" fill="#5058b0">Generation 2</text>
<rect x="285.8" y="58.9" width="8.2" height="5.4" fill="#7cbf47" stroke="#444" stroke-opacity="0.35" stroke-width="0.6"/>
<text x="300" y="64.3" font-size="6.1" text-anchor="start" fill="#5058b0">Generation 3</text>
<rect x="285.8" y="66.7" width="8.2" height="5.4" fill="#a54ea7" stroke="#444" stroke-opacity="0.35" stroke-width="0.6"/>
<text x="300" y="72.1" font-size="6.1" text-anchor="start" fill="#5058b0">Generation 4</text>
<rect x="285.8" y="74.5" width="8.2" height="5.4" fill="#7ec8e3" stroke="#444" stroke-opacity="0.35" stroke-width="0.6"/>
<text x="300" y="79.9" font-size="6.1" text-anchor="start" fill="#5058b0">Generation 5</text>
<rect x="285.8" y="82.3" width="8.2" height="5.4" fill="#f2e43d" stroke="#444" stroke-opacity="0.35" stroke-width="0.6"/>
<text x="300" y="87.7" font-size="6.1" text-anchor="start" fill="#5058b0">Generation 6</text>
<rect x="285.8" y="90.1" width="8.2" height="5.4" fill="#d42323" stroke="#444" stroke-opacity="0.35" stroke-width="0.6"/>
<text x="300" y="95.5" font-size="6.1" text-anchor="start" fill="#5058b0">Generation 7</text>
<rect x="285.8" y="97.9" width="8.2" height="5.4" fill="#6a2786" stroke="#444" stroke-opacity="0.35" stroke-width="0.6"/>
<text x="300" y="103.30000000000001" font-size="6.1" text-anchor="start" fill="#5058b0">Generation 8</text>
<line x1="371.3" y1="21.5" x2="371.3" y2="126.8" stroke="#000" stroke-width="1.2"/>
<line x1="371.3" y1="126.8" x2="517.7" y2="126.8" stroke="#000" stroke-width="1.2"/>
<line x1="368.3" y1="126.8" x2="371.3" y2="126.8" stroke="#000" stroke-width="1.1"/>
<text x="362.9" y="129.8" font-size="8.4" text-anchor="end" fill="#111" stroke="#111" stroke-width="0.35">0</text>
<line x1="368.3" y1="109.34" x2="371.3" y2="109.34" stroke="#000" stroke-width="1.1"/>
<text x="362.9" y="112.34" font-size="8.4" text-anchor="end" fill="#111" stroke="#111" stroke-width="0.35">2</text>
<line x1="368.3" y1="91.88" x2="371.3" y2="91.88" stroke="#000" stroke-width="1.1"/>
<text x="362.9" y="94.88" font-size="8.4" text-anchor="end" fill="#111" stroke="#111" stroke-width="0.35">4</text>
<line x1="368.3" y1="74.41999999999999" x2="371.3" y2="74.41999999999999" stroke="#000" stroke-width="1.1"/>
<text x="362.9" y="77.41999999999999" font-size="8.4" text-anchor="end" fill="#111" stroke="#111" stroke-width="0.35">6</text>
<line x1="368.3" y1="56.959999999999994" x2="371.3" y2="56.959999999999994" stroke="#000" stroke-width="1.1"/>
<text x="362.9" y="59.959999999999994" font-size="8.4" text-anchor="end" fill="#111" stroke="#111" stroke-width="0.35">8</text>
<line x1="368.3" y1="39.499999999999986" x2="371.3" y2="39.499999999999986" stroke="#000" stroke-width="1.1"/>
<text x="362.9" y="42.499999999999986" font-size="8.4" text-anchor="end" fill="#111" stroke="#111" stroke-width="0.35">10</text>
<line x1="368.3" y1="22.039999999999992" x2="371.3" y2="22.039999999999992" stroke="#000" stroke-width="1.1"/>
<text x="362.9" y="25.039999999999992" font-size="8.4" text-anchor="end" fill="#111" stroke="#111" stroke-width="0.35">12</text>
<text x="353.4" y="75" font-size="8.6" text-anchor="middle" fill="#222" transform="rotate(-90 353.4 75)" stroke="#222" stroke-width="0.2">Proliferation Index</text>
<line x1="408.3" y1="82.5" x2="408.3" y2="89.2" stroke="#000" stroke-width="0.8"/>
<line x1="407" y1="82.5" x2="409.6" y2="82.5" stroke="#000" stroke-width="0.8"/>
<rect x="393.6" y="89.2" width="29.8" height="37.599999999999994" fill="#fff" stroke="#000" stroke-width="1.2"/>
<line x1="481.5" y1="40.2" x2="481.5" y2="63.7" stroke="#000" stroke-width="0.9"/>
<line x1="480.2" y1="40.2" x2="482.6" y2="40.2" stroke="#000" stroke-width="1.0"/>
<rect x="466.6" y="63.7" width="30.1" height="63.099999999999994" fill="#000" stroke="none" stroke-width="0"/>
<circle cx="482.1" cy="37.2" r="0.85" fill="#222"/>
<text x="409.4" y="136.6" font-size="7.0" font-weight="bold" text-anchor="middle" fill="#000">Control</text>
<text x="484.1" y="136.6" font-size="7.0" font-weight="bold" text-anchor="middle" fill="#000">Leukemia</text>
<defs><radialGradient id="blob"><stop offset="0" stop-color="#454545" stop-opacity="1"/><stop offset="0.55" stop-color="#555" stop-opacity="0.9"/><stop offset="1" stop-color="#888" stop-opacity="0"/></radialGradient></defs>
<rect x="41.25" y="166.75" width="99.94999999999999" height="120.05000000000001" fill="none" stroke="#a0a0a0" stroke-width="0.9"/>
<ellipse cx="60.3" cy="261.5" rx="5.0" ry="10.5" fill="url(#blob)"/>
<path d="M61.8 267.7h.9v.9h-.9zM59.2 258.3h.9v.9h-.9zM61.1 269.5h.9v.9h-.9zM61.2 257.2h.9v.9h-.9zM59.3 261.9h.9v.9h-.9zM62.1 262.1h.9v.9h-.9zM59.9 261.2h.9v.9h-.9zM60.8 259.0h.9v.9h-.9zM60.6 263.3h.9v.9h-.9zM63.3 261.9h.9v.9h-.9zM62.2 257.8h.9v.9h-.9zM62.0 262.8h.9v.9h-.9zM59.7 262.0h.9v.9h-.9zM62.1 260.8h.9v.9h-.9zM62.3 268.6h.9v.9h-.9zM63.3 269.0h.9v.9h-.9zM58.4 263.6h.9v.9h-.9zM59.4 266.1h.9v.9h-.9zM60.7 263.1h.9v.9h-.9zM61.3 259.7h.9v.9h-.9zM60.7 259.1h.9v.9h-.9zM64.0 260.2h.9v.9h-.9zM60.6 254.7h.9v.9h-.9zM58.1 258.6h.9v.9h-.9zM61.9 265.4h.9v.9h-.9zM61.0 259.4h.9v.9h-.9zM63.6 257.8h.9v.9h-.9zM59.1 264.2h.9v.9h-.9zM58.9 263.3h.9v.9h-.9zM62.2 261.9h.9v.9h-.9zM61.2 262.3h.9v.9h-.9zM59.4 248.8h.9v.9h-.9zM58.5 262.1h.9v.9h-.9zM57.8 259.8h.9v.9h-.9zM60.9 267.8h.9v.9h-.9zM58.3 259.9h.9v.9h-.9zM60.9 264.4h.9v.9h-.9zM58.2 270.0h.9v.9h-.9zM59.2 266.8h.9v.9h-.9zM60.2 263.9h.9v.9h-.9zM63.4 265.2h.9v.9h-.9zM60.8 257.9h.9v.9h-.9zM59.5 256.1h.9v.9h-.9zM63.9 255.6h.9v.9h-.9zM56.2 269.1h.9v.9h-.9zM62.7 260.6h.9v.9h-.9zM62.0 258.7h.9v.9h-.9zM59.6 264.3h.9v.9h-.9zM61.2 260.2h.9v.9h-.9zM63.3 265.3h.9v.9h-.9zM60.8 257.1h.9v.9h-.9zM60.8 260.8h.9v.9h-.9zM60.4 265.6h.9v.9h-.9zM59.6 263.3h.9v.9h-.9zM61.9 263.7h.9v.9h-.9zM64.4 254.7h.9v.9h-.9zM60.4 257.1h.9v.9h-.9zM60.4 272.9h.9v.9h-.9zM57.8 260.9h.9v.9h-.9zM61.7 262.5h.9v.9h-.9zM62.1 255.5h.9v.9h-.9zM62.2 258.0h.9v.9h-.9zM58.5 264.5h.9v.9h-.9zM61.4 259.0h.9v.9h-.9zM59.2 261.3h.9v.9h-.9zM60.5 261.4h.9v.9h-.9zM58.8 252.2h.9v.9h-.9zM62.8 262.8h.9v.9h-.9zM58.4 255.4h.9v.9h-.9zM59.4 260.3h.9v.9h-.9zM56.9 268.1h.9v.9h-.9zM61.3 260.7h.9v.9h-.9zM61.1 263.1h.9v.9h-.9zM62.3 262.7h.9v.9h-.9zM62.7 268.7h.9v.9h-.9zM60.0 260.1h.9v.9h-.9zM59.0 261.1h.9v.9h-.9zM59.3 262.1h.9v.9h-.9zM61.0 264.4h.9v.9h-.9zM58.6 266.7h.9v.9h-.9zM60.0 261.6h.9v.9h-.9zM59.7 253.5h.9v.9h-.9zM61.0 254.5h.9v.9h-.9zM62.4 262.2h.9v.9h-.9zM63.2 264.8h.9v.9h-.9zM61.7 268.0h.9v.9h-.9zM60.5 268.6h.9v.9h-.9zM60.3 263.2h.9v.9h-.9zM59.4 264.4h.9v.9h-.9zM61.7 259.9h.9v.9h-.9zM58.4 261.9h.9v.9h-.9zM61.2 261.4h.9v.9h-.9zM58.9 259.0h.9v.9h-.9zM60.1 250.8h.9v.9h-.9zM59.5 268.2h.9v.9h-.9zM58.3 261.1h.9v.9h-.9zM63.4 265.1h.9v.9h-.9zM62.1 261.4h.9v.9h-.9zM58.3 274.4h.9v.9h-.9zM61.0 263.1h.9v.9h-.9zM63.3 265.5h.9v.9h-.9zM60.6 257.3h.9v.9h-.9zM60.3 261.4h.9v.9h-.9zM59.4 258.3h.9v.9h-.9zM58.8 261.5h.9v.9h-.9zM59.5 263.8h.9v.9h-.9zM62.2 263.4h.9v.9h-.9zM60.5 268.7h.9v.9h-.9zM61.6 255.7h.9v.9h-.9zM59.3 262.9h.9v.9h-.9zM59.0 265.3h.9v.9h-.9zM57.5 253.9h.9v.9h-.9zM62.2 264.5h.9v.9h-.9zM57.8 262.3h.9v.9h-.9zM62.8 257.3h.9v.9h-.9zM58.5 256.8h.9v.9h-.9zM58.8 254.6h.9v.9h-.9zM59.7 255.8h.9v.9h-.9zM60.6 271.6h.9v.9h-.9zM58.7 265.9h.9v.9h-.9zM62.5 252.1h.9v.9h-.9zM60.7 262.0h.9v.9h-.9zM59.9 265.4h.9v.9h-.9zM59.8 263.5h.9v.9h-.9zM59.8 261.4h.9v.9h-.9zM59.2 271.8h.9v.9h-.9zM60.4 257.2h.9v.9h-.9zM63.8 268.8h.9v.9h-.9zM60.2 259.2h.9v.9h-.9zM59.3 267.3h.9v.9h-.9zM59.9 259.0h.9v.9h-.9zM61.9 260.9h.9v.9h-.9zM60.4 270.3h.9v.9h-.9zM62.0 267.3h.9v.9h-.9zM61.2 267.5h.9v.9h-.9zM60.2 266.1h.9v.9h-.9zM62.3 260.2h.9v.9h-.9zM58.3 264.3h.9v.9h-.9zM60.3 264.6h.9v.9h-.9zM59.5 264.3h.9v.9h-.9zM62.1 272.1h.9v.9h-.9zM63.5 263.7h.9v.9h-.9zM62.9 259.3h.9v.9h-.9zM62.5 262.6h.9v.9h-.9zM62.8 263.4h.9v.9h-.9zM60.1 259.0h.9v.9h-.9zM62.6 262.3h.9v.9h-.9zM61.7 264.1h.9v.9h-.9zM57.0 264.6h.9v.9h-.9zM59.9 263.7h.9v.9h-.9zM61.3 254.3h.9v.9h-.9zM60.0 261.7h.9v.9h-.9zM61.2 266.0h.9v.9h-.9zM59.3 261.0h.9v.9h-.9zM61.6 254.2h.9v.9h-.9zM63.6 258.0h.9v.9h-.9zM62.7 262.6h.9v.9h-.9zM63.7 266.5h.9v.9h-.9zM60.4 254.7h.9v.9h-.9zM60.7 263.4h.9v.9h-.9zM61.4 256.6h.9v.9h-.9zM59.1 258.7h.9v.9h-.9zM61.0 258.3h.9v.9h-.9zM60.3 266.0h.9v.9h-.9zM59.8 267.8h.9v.9h-.9zM61.0 260.9h.9v.9h-.9zM62.4 264.1h.9v.9h-.9zM60.0 259.5h.9v.9h-.9zM60.4 263.5h.9v.9h-.9zM62.4 263.2h.9v.9h-.9zM59.5 256.3h.9v.9h-.9zM60.9 263.7h.9v.9h-.9zM62.4 259.7h.9v.9h-.9zM58.3 265.6h.9v.9h-.9zM60.2 256.8h.9v.9h-.9zM63.3 265.8h.9v.9h-.9zM60.6 263.2h.9v.9h-.9zM59.2 266.2h.9v.9h-.9zM59.8 260.1h.9v.9h-.9zM60.0 257.1h.9v.9h-.9zM62.2 269.1h.9v.9h-.9zM61.8 253.2h.9v.9h-.9zM60.0 259.3h.9v.9h-.9zM61.1 252.9h.9v.9h-.9zM56.9 260.0h.9v.9h-.9zM62.2 261.2h.9v.9h-.9zM64.2 258.4h.9v.9h-.9zM60.6 261.4h.9v.9h-.9zM59.1 266.8h.9v.9h-.9zM58.3 257.5h.9v.9h-.9zM59.9 260.0h.9v.9h-.9zM62.4 259.8h.9v.9h-.9zM61.4 260.0h.9v.9h-.9zM62.7 261.9h.9v.9h-.9zM60.9 255.0h.9v.9h-.9zM61.7 259.3h.9v.9h-.9zM62.0 264.2h.9v.9h-.9zM61.4 266.8h.9v.9h-.9zM61.1 258.3h.9v.9h-.9zM60.8 262.7h.9v.9h-.9zM58.5 264.6h.9v.9h-.9zM63.0 263.0h.9v.9h-.9zM60.7 264.0h.9v.9h-.9zM62.4 259.7h.9v.9h-.9zM62.1 258.8h.9v.9h-.9zM61.4 264.2h.9v.9h-.9zM58.3 264.8h.9v.9h-.9zM60.9 254.9h.9v.9h-.9zM59.7 259.3h.9v.9h-.9zM59.0 263.8h.9v.9h-.9zM59.2 262.2h.9v.9h-.9zM58.7 260.9h.9v.9h-.9zM63.6 263.8h.9v.9h-.9zM57.9 258.0h.9v.9h-.9zM60.3 255.1h.9v.9h-.9zM62.2 261.8h.9v.9h-.9zM60.4 262.2h.9v.9h-.9zM59.3 257.1h.9v.9h-.9zM55.3 255.1h.9v.9h-.9zM60.9 264.9h.9v.9h-.9z" fill="#3c3c3c"/>
<path d="M60.6 251.3h.9v.9h-.9zM60.2 265.3h.9v.9h-.9zM57.9 275.2h.9v.9h-.9zM58.3 265.0h.9v.9h-.9zM58.4 271.8h.9v.9h-.9zM58.0 258.3h.9v.9h-.9zM63.7 255.6h.9v.9h-.9zM59.7 269.0h.9v.9h-.9zM61.8 252.0h.9v.9h-.9zM62.4 262.8h.9v.9h-.9zM63.9 252.1h.9v.9h-.9zM62.8 268.0h.9v.9h-.9zM60.1 261.9h.9v.9h-.9zM61.9 259.9h.9v.9h-.9zM60.2 259.3h.9v.9h-.9zM61.3 270.0h.9v.9h-.9zM57.2 265.2h.9v.9h-.9zM61.7 276.2h.9v.9h-.9zM59.2 274.3h.9v.9h-.9zM59.9 268.6h.9v.9h-.9zM61.5 267.0h.9v.9h-.9zM60.2 257.7h.9v.9h-.9zM64.5 275.8h.9v.9h-.9zM60.7 263.7h.9v.9h-.9zM60.5 255.0h.9v.9h-.9zM58.3 268.1h.9v.9h-.9zM63.3 263.3h.9v.9h-.9zM58.8 257.0h.9v.9h-.9zM59.5 270.2h.9v.9h-.9zM61.1 254.3h.9v.9h-.9zM58.2 267.4h.9v.9h-.9zM61.7 278.1h.9v.9h-.9zM64.4 266.3h.9v.9h-.9zM59.4 266.5h.9v.9h-.9zM58.3 259.9h.9v.9h-.9zM63.4 269.5h.9v.9h-.9zM63.2 276.6h.9v.9h-.9zM60.0 270.9h.9v.9h-.9zM61.2 267.3h.9v.9h-.9zM61.5 269.0h.9v.9h-.9zM57.7 254.8h.9v.9h-.9zM61.2 268.6h.9v.9h-.9zM59.8 264.2h.9v.9h-.9zM57.6 272.1h.9v.9h-.9zM62.1 276.1h.9v.9h-.9zM60.0 264.2h.9v.9h-.9zM61.2 275.1h.9v.9h-.9zM62.3 267.9h.9v.9h-.9zM57.1 258.6h.9v.9h-.9zM57.5 263.6h.9v.9h-.9zM63.0 265.4h.9v.9h-.9zM58.8 280.1h.9v.9h-.9zM58.4 275.3h.9v.9h-.9zM63.8 266.9h.9v.9h-.9zM64.2 256.9h.9v.9h-.9zM59.7 262.7h.9v.9h-.9zM61.9 263.6h.9v.9h-.9zM65.1 262.1h.9v.9h-.9zM60.4 255.9h.9v.9h-.9zM62.1 270.9h.9v.9h-.9zM59.2 255.6h.9v.9h-.9zM57.7 273.6h.9v.9h-.9zM62.9 267.0h.9v.9h-.9zM62.8 268.6h.9v.9h-.9zM62.1 252.9h.9v.9h-.9zM62.2 270.2h.9v.9h-.9zM63.7 272.2h.9v.9h-.9zM59.4 266.9h.9v.9h-.9zM57.6 275.7h.9v.9h-.9zM57.7 270.2h.9v.9h-.9zM59.1 258.9h.9v.9h-.9zM58.9 262.5h.9v.9h-.9zM61.9 273.3h.9v.9h-.9zM60.3 271.3h.9v.9h-.9zM63.1 280.3h.9v.9h-.9zM59.6 267.3h.9v.9h-.9zM62.6 266.0h.9v.9h-.9zM62.5 260.0h.9v.9h-.9zM60.1 260.3h.9v.9h-.9zM59.5 258.3h.9v.9h-.9zM60.7 255.8h.9v.9h-.9zM59.6 269.3h.9v.9h-.9zM57.2 257.1h.9v.9h-.9zM60.0 257.0h.9v.9h-.9zM58.6 278.9h.9v.9h-.9zM61.8 261.5h.9v.9h-.9zM59.2 253.4h.9v.9h-.9zM58.2 247.7h.9v.9h-.9zM62.3 261.1h.9v.9h-.9zM63.1 264.9h.9v.9h-.9zM56.2 279.1h.9v.9h-.9zM62.2 271.5h.9v.9h-.9zM59.7 260.7h.9v.9h-.9zM60.5 278.3h.9v.9h-.9zM58.0 257.0h.9v.9h-.9zM62.2 250.3h.9v.9h-.9zM64.5 256.3h.9v.9h-.9zM63.8 263.8h.9v.9h-.9zM60.1 256.4h.9v.9h-.9zM64.4 262.9h.9v.9h-.9zM57.8 269.7h.9v.9h-.9zM60.6 268.8h.9v.9h-.9zM60.0 267.7h.9v.9h-.9zM62.1 265.1h.9v.9h-.9zM57.1 268.6h.9v.9h-.9zM64.3 268.2h.9v.9h-.9zM63.2 270.8h.9v.9h-.9zM60.3 272.8h.9v.9h-.9zM60.4 257.5h.9v.9h-.9zM58.0 272.6h.9v.9h-.9z" fill="#707070"/>
<path d="M75.8 234.6h.9v.9h-.9zM77.9 202.5h.9v.9h-.9zM78.5 225.7h.9v.9h-.9zM73.6 217.5h.9v.9h-.9zM77.9 202.1h.9v.9h-.9zM75.1 235.5h.9v.9h-.9zM79.9 222.5h.9v.9h-.9zM73.1 207.3h.9v.9h-.9zM67.2 247.2h.9v.9h-.9zM78.8 227.4h.9v.9h-.9zM74.0 236.6h.9v.9h-.9zM74.0 228.8h.9v.9h-.9zM77.4 218.9h.9v.9h-.9zM70.9 217.4h.9v.9h-.9zM85.3 207.7h.9v.9h-.9zM73.8 220.1h.9v.9h-.9zM76.2 220.4h.9v.9h-.9zM79.5 222.3h.9v.9h-.9zM72.1 234.8h.9v.9h-.9zM64.1 237.7h.9v.9h-.9zM83.8 210.9h.9v.9h-.9zM76.5 216.6h.9v.9h-.9zM70.1 235.2h.9v.9h-.9zM62.7 234.0h.9v.9h-.9zM76.6 226.4h.9v.9h-.9zM86.7 222.6h.9v.9h-.9zM66.0 228.8h.9v.9h-.9zM77.3 218.3h.9v.9h-.9zM70.6 199.6h.9v.9h-.9zM87.3 209.2h.9v.9h-.9zM78.4 237.9h.9v.9h-.9zM63.3 225.5h.9v.9h-.9zM73.9 240.5h.9v.9h-.9zM76.7 243.3h.9v.9h-.9zM75.1 222.8h.9v.9h-.9zM71.8 232.2h.9v.9h-.9zM73.6 211.5h.9v.9h-.9zM82.3 240.8h.9v.9h-.9zM80.4 224.4h.9v.9h-.9zM71.8 219.5h.9v.9h-.9zM72.8 217.1h.9v.9h-.9zM65.0 231.6h.9v.9h-.9zM73.5 236.2h.9v.9h-.9zM77.2 217.1h.9v.9h-.9zM81.1 240.2h.9v.9h-.9zM74.3 237.6h.9v.9h-.9zM70.6 234.6h.9v.9h-.9zM67.6 237.5h.9v.9h-.9zM76.2 237.5h.9v.9h-.9zM75.9 228.1h.9v.9h-.9zM73.2 235.2h.9v.9h-.9zM70.0 234.2h.9v.9h-.9zM82.4 211.3h.9v.9h-.9zM65.4 227.4h.9v.9h-.9zM75.5 215.5h.9v.9h-.9zM72.2 210.6h.9v.9h-.9zM67.8 219.4h.9v.9h-.9zM72.8 202.7h.9v.9h-.9zM68.9 244.5h.9v.9h-.9zM81.0 225.3h.9v.9h-.9zM77.1 223.3h.9v.9h-.9zM76.5 216.1h.9v.9h-.9zM78.0 212.8h.9v.9h-.9zM71.5 223.0h.9v.9h-.9zM67.3 251.0h.9v.9h-.9zM74.0 211.0h.9v.9h-.9zM75.6 233.8h.9v.9h-.9zM78.1 225.2h.9v.9h-.9zM68.5 219.5h.9v.9h-.9zM68.7 223.3h.9v.9h-.9zM83.9 224.1h.9v.9h-.9zM71.4 239.4h.9v.9h-.9zM65.6 233.5h.9v.9h-.9zM75.1 216.8h.9v.9h-.9zM76.0 213.0h.9v.9h-.9zM78.2 228.1h.9v.9h-.9zM70.7 231.2h.9v.9h-.9zM76.5 189.6h.9v.9h-.9zM82.7 220.3h.9v.9h-.9zM81.1 215.5h.9v.9h-.9zM69.4 209.9h.9v.9h-.9zM77.6 231.5h.9v.9h-.9zM69.2 233.3h.9v.9h-.9zM72.5 227.5h.9v.9h-.9zM76.9 196.2h.9v.9h-.9zM72.7 234.1h.9v.9h-.9zM65.0 244.1h.9v.9h-.9zM70.0 247.7h.9v.9h-.9zM73.5 241.7h.9v.9h-.9zM78.2 207.2h.9v.9h-.9zM80.7 244.7h.9v.9h-.9zM80.8 215.1h.9v.9h-.9zM82.2 214.0h.9v.9h-.9zM73.9 237.6h.9v.9h-.9zM80.2 214.0h.9v.9h-.9zM76.8 228.7h.9v.9h-.9zM72.9 242.0h.9v.9h-.9zM74.1 214.4h.9v.9h-.9zM59.4 241.6h.9v.9h-.9zM66.3 240.6h.9v.9h-.9zM72.3 240.9h.9v.9h-.9zM74.0 231.8h.9v.9h-.9zM71.8 231.0h.9v.9h-.9zM66.0 237.0h.9v.9h-.9zM68.1 217.0h.9v.9h-.9zM72.3 226.2h.9v.9h-.9zM77.2 213.2h.9v.9h-.9zM83.8 191.9h.9v.9h-.9zM71.3 223.6h.9v.9h-.9zM67.9 236.5h.9v.9h-.9zM72.1 231.0h.9v.9h-.9zM65.9 235.4h.9v.9h-.9zM83.0 207.4h.9v.9h-.9zM85.0 212.7h.9v.9h-.9zM66.0 234.0h.9v.9h-.9zM80.6 235.6h.9v.9h-.9zM76.1 216.2h.9v.9h-.9zM70.2 226.7h.9v.9h-.9zM79.3 213.7h.9v.9h-.9zM84.1 198.6h.9v.9h-.9zM78.6 214.1h.9v.9h-.9zM61.3 249.6h.9v.9h-.9zM78.3 222.1h.9v.9h-.9zM64.5 241.4h.9v.9h-.9zM77.4 215.8h.9v.9h-.9zM60.0 233.5h.9v.9h-.9zM76.3 232.3h.9v.9h-.9zM75.4 201.0h.9v.9h-.9zM80.9 222.7h.9v.9h-.9zM86.5 194.3h.9v.9h-.9zM70.7 233.5h.9v.9h-.9zM68.1 247.8h.9v.9h-.9zM75.1 239.2h.9v.9h-.9zM78.4 223.2h.9v.9h-.9zM73.4 213.7h.9v.9h-.9zM81.0 224.4h.9v.9h-.9zM63.7 224.8h.9v.9h-.9zM76.4 219.0h.9v.9h-.9zM79.3 214.5h.9v.9h-.9zM88.4 223.0h.9v.9h-.9z" fill="#a8a8a8"/>
<path d="M60.7 235.9h.9v.9h-.9zM71.0 250.9h.9v.9h-.9zM71.5 246.7h.9v.9h-.9zM69.6 228.6h.9v.9h-.9zM60.1 219.3h.9v.9h-.9zM68.9 209.2h.9v.9h-.9zM76.6 227.8h.9v.9h-.9zM79.9 249.6h.9v.9h-.9zM82.1 220.6h.9v.9h-.9zM73.4 222.0h.9v.9h-.9zM61.2 236.9h.9v.9h-.9zM65.1 251.0h.9v.9h-.9zM57.0 239.1h.9v.9h-.9zM81.1 238.9h.9v.9h-.9zM86.4 272.9h.9v.9h-.9zM58.6 226.5h.9v.9h-.9zM64.4 263.7h.9v.9h-.9zM65.1 192.5h.9v.9h-.9zM63.8 227.3h.9v.9h-.9zM68.0 230.4h.9v.9h-.9zM69.7 217.9h.9v.9h-.9zM69.1 224.6h.9v.9h-.9zM65.5 228.0h.9v.9h-.9zM76.9 238.6h.9v.9h-.9zM75.2 218.8h.9v.9h-.9zM54.3 229.9h.9v.9h-.9zM76.9 232.9h.9v.9h-.9zM64.6 202.2h.9v.9h-.9zM72.3 217.2h.9v.9h-.9zM54.4 240.6h.9v.9h-.9zM69.9 258.1h.9v.9h-.9zM58.3 206.0h.9v.9h-.9zM70.5 264.6h.9v.9h-.9zM71.1 246.4h.9v.9h-.9zM57.1 239.2h.9v.9h-.9zM56.1 197.5h.9v.9h-.9zM75.7 256.1h.9v.9h-.9zM63.1 236.9h.9v.9h-.9zM74.4 229.5h.9v.9h-.9zM69.8 240.7h.9v.9h-.9zM61.8 212.0h.9v.9h-.9zM73.3 279.5h.9v.9h-.9zM66.0 224.9h.9v.9h-.9zM86.5 221.0h.9v.9h-.9z" fill="#bdbdbd"/>
<path d="M60.3 285.1h.9v.9h-.9zM63.4 278.1h.9v.9h-.9zM57.2 281.3h.9v.9h-.9zM61.3 279.6h.9v.9h-.9zM63.1 284.7h.9v.9h-.9zM63.7 284.6h.9v.9h-.9zM60.5 280.4h.9v.9h-.9zM63.2 270.7h.9v.9h-.9zM58.9 272.5h.9v.9h-.9zM60.0 271.1h.9v.9h-.9zM60.8 269.9h.9v.9h-.9zM62.2 274.7h.9v.9h-.9zM59.7 269.2h.9v.9h-.9zM62.4 270.7h.9v.9h-.9zM60.9 268.2h.9v.9h-.9zM57.9 272.2h.9v.9h-.9zM59.7 273.2h.9v.9h-.9zM61.2 271.3h.9v.9h-.9zM63.9 268.8h.9v.9h-.9zM64.4 275.8h.9v.9h-.9zM67.8 268.4h.9v.9h-.9zM60.5 276.1h.9v.9h-.9zM63.7 272.1h.9v.9h-.9zM63.6 274.5h.9v.9h-.9zM58.8 275.6h.9v.9h-.9zM63.8 276.2h.9v.9h-.9zM61.7 268.5h.9v.9h-.9zM63.6 282.4h.9v.9h-.9zM58.9 277.6h.9v.9h-.9zM58.0 275.1h.9v.9h-.9zM56.0 272.8h.9v.9h-.9zM63.4 265.1h.9v.9h-.9zM59.0 274.5h.9v.9h-.9zM61.4 275.7h.9v.9h-.9zM65.0 266.8h.9v.9h-.9zM62.5 262.2h.9v.9h-.9zM55.3 267.9h.9v.9h-.9zM55.9 276.8h.9v.9h-.9zM63.9 276.8h.9v.9h-.9zM58.3 269.2h.9v.9h-.9zM58.1 272.6h.9v.9h-.9zM59.7 280.4h.9v.9h-.9zM62.9 266.2h.9v.9h-.9zM65.2 275.1h.9v.9h-.9zM63.9 274.0h.9v.9h-.9z" fill="#8a8a8a"/>
<polygon points="53.5,181.9 110.2,180 93,251.3 52.8,250.1" fill="none" stroke="#555" stroke-width="0.8"/>
<text x="85.8" y="192.6" font-size="8.7" font-weight="bold" text-anchor="start" fill="#000">20%</text>
<text x="97.2" y="282.3" font-size="11.1" font-weight="bold" text-anchor="start" fill="#000">Control</text>
<line x1="39.75" y1="199.6787911313814" x2="41.25" y2="199.6787911313814" stroke="#999" stroke-width="0.5"/>
<line x1="39.75" y1="194.34322598199424" x2="41.25" y2="194.34322598199424" stroke="#999" stroke-width="0.5"/>
<line x1="39.75" y1="190.55758226276276" x2="41.25" y2="190.55758226276276" stroke="#999" stroke-width="0.5"/>
<line x1="39.75" y1="187.62120886861865" x2="41.25" y2="187.62120886861865" stroke="#999" stroke-width="0.5"/>
<line x1="39.75" y1="185.2220171133756" x2="41.25" y2="185.2220171133756" stroke="#999" stroke-width="0.5"/>
<line x1="39.75" y1="183.19352938756802" x2="41.25" y2="183.19352938756802" stroke="#999" stroke-width="0.5"/>
<line x1="39.75" y1="181.4363733941441" x2="41.25" y2="181.4363733941441" stroke="#999" stroke-width="0.5"/>
<line x1="39.75" y1="179.88645196398846" x2="41.25" y2="179.88645196398846" stroke="#999" stroke-width="0.5"/>
<line x1="38.25" y1="178.5" x2="41.25" y2="178.5" stroke="#777" stroke-width="0.6"/>
<text x="36.95" y="179.1" font-size="4.0" text-anchor="middle" fill="#444" transform="rotate(-90 36.95 179.1)">10</text>
<text x="33.65" y="176.1" font-size="2.8" text-anchor="middle" fill="#444" transform="rotate(-90 33.65 176.1)">1</text>
<line x1="39.75" y1="229.9787911313814" x2="41.25" y2="229.9787911313814" stroke="#999" stroke-width="0.5"/>
<line x1="39.75" y1="224.64322598199425" x2="41.25" y2="224.64322598199425" stroke="#999" stroke-width="0.5"/>
<line x1="39.75" y1="220.85758226276278" x2="41.25" y2="220.85758226276278" stroke="#999" stroke-width="0.5"/>
<line x1="39.75" y1="217.92120886861866" x2="41.25" y2="217.92120886861866" stroke="#999" stroke-width="0.5"/>
<line x1="39.75" y1="215.52201711337563" x2="41.25" y2="215.52201711337563" stroke="#999" stroke-width="0.5"/>
<line x1="39.75" y1="213.49352938756803" x2="41.25" y2="213.49352938756803" stroke="#999" stroke-width="0.5"/>
<line x1="39.75" y1="211.73637339414412" x2="41.25" y2="211.73637339414412" stroke="#999" stroke-width="0.5"/>
<line x1="39.75" y1="210.18645196398847" x2="41.25" y2="210.18645196398847" stroke="#999" stroke-width="0.5"/>
<line x1="38.25" y1="208.8" x2="41.25" y2="208.8" stroke="#777" stroke-width="0.6"/>
<text x="36.95" y="209.4" font-size="4.0" text-anchor="middle" fill="#444" transform="rotate(-90 36.95 209.4)">10</text>
<text x="33.65" y="206.4" font-size="2.8" text-anchor="middle" fill="#444" transform="rotate(-90 33.65 206.4)">2</text>
<line x1="39.75" y1="260.27879113138135" x2="41.25" y2="260.27879113138135" stroke="#999" stroke-width="0.5"/>
<line x1="39.75" y1="254.9432259819942" x2="41.25" y2="254.9432259819942" stroke="#999" stroke-width="0.5"/>
<line x1="39.75" y1="251.15758226276273" x2="41.25" y2="251.15758226276273" stroke="#999" stroke-width="0.5"/>
<line x1="39.75" y1="248.22120886861862" x2="41.25" y2="248.22120886861862" stroke="#999" stroke-width="0.5"/>
<line x1="39.75" y1="245.82201711337558" x2="41.25" y2="245.82201711337558" stroke="#999" stroke-width="0.5"/>
<line x1="39.75" y1="243.793529387568" x2="41.25" y2="243.793529387568" stroke="#999" stroke-width="0.5"/>
<line x1="39.75" y1="242.03637339414408" x2="41.25" y2="242.03637339414408" stroke="#999" stroke-width="0.5"/>
<line x1="39.75" y1="240.48645196398843" x2="41.25" y2="240.48645196398843" stroke="#999" stroke-width="0.5"/>
<line x1="38.25" y1="239.1" x2="41.25" y2="239.1" stroke="#777" stroke-width="0.6"/>
<text x="36.95" y="239.7" font-size="4.0" text-anchor="middle" fill="#444" transform="rotate(-90 36.95 239.7)">10</text>
<text x="33.65" y="236.7" font-size="2.8" text-anchor="middle" fill="#444" transform="rotate(-90 33.65 236.7)">3</text>
<line x1="39.75" y1="290.57879113138137" x2="41.25" y2="290.57879113138137" stroke="#999" stroke-width="0.5"/>
<line x1="39.75" y1="285.2432259819942" x2="41.25" y2="285.2432259819942" stroke="#999" stroke-width="0.5"/>
<line x1="39.75" y1="281.45758226276274" x2="41.25" y2="281.45758226276274" stroke="#999" stroke-width="0.5"/>
<line x1="39.75" y1="278.5212088686186" x2="41.25" y2="278.5212088686186" stroke="#999" stroke-width="0.5"/>
<line x1="39.75" y1="276.1220171133756" x2="41.25" y2="276.1220171133756" stroke="#999" stroke-width="0.5"/>
<line x1="39.75" y1="274.093529387568" x2="41.25" y2="274.093529387568" stroke="#999" stroke-width="0.5"/>
<line x1="39.75" y1="272.3363733941441" x2="41.25" y2="272.3363733941441" stroke="#999" stroke-width="0.5"/>
<line x1="39.75" y1="270.78645196398844" x2="41.25" y2="270.78645196398844" stroke="#999" stroke-width="0.5"/>
<line x1="38.25" y1="269.4" x2="41.25" y2="269.4" stroke="#777" stroke-width="0.6"/>
<text x="36.95" y="270.0" font-size="4.0" text-anchor="middle" fill="#444" transform="rotate(-90 36.95 270.0)">10</text>
<text x="33.65" y="267.0" font-size="2.8" text-anchor="middle" fill="#444" transform="rotate(-90 33.65 267.0)">4</text>
<line x1="41.3" y1="286.8" x2="41.3" y2="289.0" stroke="#888" stroke-width="0.5"/>
<line x1="45.14" y1="286.8" x2="45.14" y2="288.1" stroke="#888" stroke-width="0.5"/>
<line x1="48.98" y1="286.8" x2="48.98" y2="288.1" stroke="#888" stroke-width="0.5"/>
<line x1="52.81999999999999" y1="286.8" x2="52.81999999999999" y2="288.1" stroke="#888" stroke-width="0.5"/>
<line x1="56.66" y1="286.8" x2="56.66" y2="288.1" stroke="#888" stroke-width="0.5"/>
<line x1="60.5" y1="286.8" x2="60.5" y2="289.0" stroke="#888" stroke-width="0.5"/>
<line x1="64.34" y1="286.8" x2="64.34" y2="288.1" stroke="#888" stroke-width="0.5"/>
<line x1="68.17999999999999" y1="286.8" x2="68.17999999999999" y2="288.1" stroke="#888" stroke-width="0.5"/>
<line x1="72.02" y1="286.8" x2="72.02" y2="288.1" stroke="#888" stroke-width="0.5"/>
<line x1="75.86" y1="286.8" x2="75.86" y2="288.1" stroke="#888" stroke-width="0.5"/>
<line x1="79.69999999999999" y1="286.8" x2="79.69999999999999" y2="289.0" stroke="#888" stroke-width="0.5"/>
<line x1="83.53999999999999" y1="286.8" x2="83.53999999999999" y2="288.1" stroke="#888" stroke-width="0.5"/>
<line x1="87.38" y1="286.8" x2="87.38" y2="288.1" stroke="#888" stroke-width="0.5"/>
<line x1="91.22" y1="286.8" x2="91.22" y2="288.1" stroke="#888" stroke-width="0.5"/>
<line x1="95.06" y1="286.8" x2="95.06" y2="288.1" stroke="#888" stroke-width="0.5"/>
<line x1="98.89999999999999" y1="286.8" x2="98.89999999999999" y2="289.0" stroke="#888" stroke-width="0.5"/>
<line x1="102.74" y1="286.8" x2="102.74" y2="288.1" stroke="#888" stroke-width="0.5"/>
<line x1="106.58" y1="286.8" x2="106.58" y2="288.1" stroke="#888" stroke-width="0.5"/>
<line x1="110.42" y1="286.8" x2="110.42" y2="288.1" stroke="#888" stroke-width="0.5"/>
<line x1="114.25999999999999" y1="286.8" x2="114.25999999999999" y2="288.1" stroke="#888" stroke-width="0.5"/>
<line x1="118.1" y1="286.8" x2="118.1" y2="289.0" stroke="#888" stroke-width="0.5"/>
<line x1="121.94" y1="286.8" x2="121.94" y2="288.1" stroke="#888" stroke-width="0.5"/>
<line x1="125.77999999999999" y1="286.8" x2="125.77999999999999" y2="288.1" stroke="#888" stroke-width="0.5"/>
<line x1="129.62" y1="286.8" x2="129.62" y2="288.1" stroke="#888" stroke-width="0.5"/>
<line x1="133.45999999999998" y1="286.8" x2="133.45999999999998" y2="288.1" stroke="#888" stroke-width="0.5"/>
<line x1="137.3" y1="286.8" x2="137.3" y2="289.0" stroke="#888" stroke-width="0.5"/>
<text x="60.5" y="296.0" font-size="4.0" text-anchor="middle" fill="#666">50</text>
<text x="79.69999999999999" y="296.0" font-size="4.0" text-anchor="middle" fill="#666">100</text>
<text x="98.89999999999999" y="296.0" font-size="4.0" text-anchor="middle" fill="#666">150</text>
<text x="118.1" y="296.0" font-size="4.0" text-anchor="middle" fill="#666">200</text>
<text x="137.3" y="296.0" font-size="4.0" text-anchor="middle" fill="#666">250</text>
<rect x="188.3" y="166.5" width="101.30000000000001" height="120.0" fill="none" stroke="#a0a0a0" stroke-width="0.9"/>
<ellipse cx="213" cy="258.5" rx="7.2" ry="10.8" fill="url(#blob)"/>
<path d="M214.4 258.4h.9v.9h-.9zM222.7 261.4h.9v.9h-.9zM213.5 261.0h.9v.9h-.9zM211.6 255.7h.9v.9h-.9zM214.5 257.0h.9v.9h-.9zM215.3 258.0h.9v.9h-.9zM208.0 252.9h.9v.9h-.9zM210.6 249.8h.9v.9h-.9zM212.8 257.7h.9v.9h-.9zM215.6 255.0h.9v.9h-.9zM212.3 261.7h.9v.9h-.9zM215.1 254.3h.9v.9h-.9zM217.3 256.1h.9v.9h-.9zM216.4 257.6h.9v.9h-.9zM211.8 253.3h.9v.9h-.9zM212.6 270.0h.9v.9h-.9zM211.2 266.1h.9v.9h-.9zM216.8 257.2h.9v.9h-.9zM216.2 265.4h.9v.9h-.9zM212.1 256.6h.9v.9h-.9zM216.2 260.6h.9v.9h-.9zM219.0 261.0h.9v.9h-.9zM209.7 258.8h.9v.9h-.9zM209.7 262.5h.9v.9h-.9zM215.0 257.1h.9v.9h-.9zM210.5 263.1h.9v.9h-.9zM211.9 264.7h.9v.9h-.9zM210.2 257.7h.9v.9h-.9zM211.5 254.2h.9v.9h-.9zM220.7 266.8h.9v.9h-.9zM211.2 262.7h.9v.9h-.9zM207.9 264.8h.9v.9h-.9zM216.1 257.4h.9v.9h-.9zM212.0 260.2h.9v.9h-.9zM214.3 257.4h.9v.9h-.9zM210.6 257.8h.9v.9h-.9zM211.8 262.6h.9v.9h-.9zM213.3 260.1h.9v.9h-.9zM208.3 257.3h.9v.9h-.9zM211.9 256.6h.9v.9h-.9zM212.7 257.7h.9v.9h-.9zM208.7 263.4h.9v.9h-.9zM215.6 256.7h.9v.9h-.9zM214.8 254.8h.9v.9h-.9zM209.5 258.1h.9v.9h-.9zM217.4 258.6h.9v.9h-.9zM208.7 260.2h.9v.9h-.9zM211.4 255.8h.9v.9h-.9zM214.1 251.0h.9v.9h-.9zM208.0 252.4h.9v.9h-.9zM216.2 259.6h.9v.9h-.9zM211.4 256.0h.9v.9h-.9zM215.0 264.9h.9v.9h-.9zM211.0 260.4h.9v.9h-.9zM219.8 262.0h.9v.9h-.9zM212.2 260.8h.9v.9h-.9zM213.4 262.3h.9v.9h-.9zM214.1 256.9h.9v.9h-.9zM212.8 261.0h.9v.9h-.9zM211.2 259.6h.9v.9h-.9zM210.5 265.0h.9v.9h-.9zM217.6 255.2h.9v.9h-.9zM215.6 260.0h.9v.9h-.9zM213.4 258.1h.9v.9h-.9zM213.9 263.9h.9v.9h-.9zM209.7 263.9h.9v.9h-.9zM212.4 254.2h.9v.9h-.9zM213.0 262.2h.9v.9h-.9zM212.9 260.6h.9v.9h-.9zM212.2 256.8h.9v.9h-.9zM216.0 254.9h.9v.9h-.9zM216.0 260.8h.9v.9h-.9zM212.4 258.2h.9v.9h-.9zM212.3 259.1h.9v.9h-.9zM213.0 258.6h.9v.9h-.9zM207.7 249.6h.9v.9h-.9zM214.1 256.4h.9v.9h-.9zM211.6 258.5h.9v.9h-.9zM210.0 266.4h.9v.9h-.9zM213.2 258.5h.9v.9h-.9zM210.2 263.3h.9v.9h-.9zM215.2 266.1h.9v.9h-.9zM215.7 255.5h.9v.9h-.9zM209.6 265.5h.9v.9h-.9zM211.3 258.8h.9v.9h-.9zM212.7 261.6h.9v.9h-.9zM214.7 254.5h.9v.9h-.9zM211.4 251.3h.9v.9h-.9zM214.7 258.5h.9v.9h-.9zM208.4 264.0h.9v.9h-.9zM213.2 254.7h.9v.9h-.9zM212.0 256.6h.9v.9h-.9zM213.5 260.2h.9v.9h-.9zM211.6 261.2h.9v.9h-.9zM205.9 257.7h.9v.9h-.9zM215.0 263.6h.9v.9h-.9zM215.4 254.5h.9v.9h-.9zM208.5 257.7h.9v.9h-.9zM219.5 260.5h.9v.9h-.9zM211.1 251.7h.9v.9h-.9zM213.6 257.2h.9v.9h-.9zM214.5 260.1h.9v.9h-.9zM206.6 258.7h.9v.9h-.9zM215.3 256.6h.9v.9h-.9zM209.8 254.0h.9v.9h-.9zM209.5 269.1h.9v.9h-.9zM217.1 256.5h.9v.9h-.9zM216.9 254.4h.9v.9h-.9zM211.6 255.8h.9v.9h-.9zM212.6 262.2h.9v.9h-.9zM218.8 262.5h.9v.9h-.9zM212.8 259.9h.9v.9h-.9zM212.5 260.9h.9v.9h-.9zM210.7 260.3h.9v.9h-.9zM214.4 263.5h.9v.9h-.9zM210.8 261.1h.9v.9h-.9zM213.9 255.5h.9v.9h-.9zM207.6 256.7h.9v.9h-.9zM215.5 257.9h.9v.9h-.9zM219.4 261.7h.9v.9h-.9zM211.1 258.7h.9v.9h-.9zM214.4 261.3h.9v.9h-.9zM212.5 261.2h.9v.9h-.9zM221.3 263.3h.9v.9h-.9zM213.6 257.0h.9v.9h-.9zM208.2 260.0h.9v.9h-.9zM212.0 259.0h.9v.9h-.9zM211.6 262.6h.9v.9h-.9zM216.1 256.0h.9v.9h-.9zM209.3 260.6h.9v.9h-.9zM216.9 261.0h.9v.9h-.9zM214.4 252.9h.9v.9h-.9zM211.6 261.8h.9v.9h-.9zM214.1 259.1h.9v.9h-.9zM214.7 263.0h.9v.9h-.9zM213.3 256.0h.9v.9h-.9zM209.2 260.1h.9v.9h-.9zM212.6 258.3h.9v.9h-.9zM216.1 256.2h.9v.9h-.9zM212.3 262.1h.9v.9h-.9zM210.7 249.5h.9v.9h-.9zM211.6 262.8h.9v.9h-.9zM211.4 258.0h.9v.9h-.9zM208.0 264.5h.9v.9h-.9zM208.3 256.2h.9v.9h-.9zM212.6 267.8h.9v.9h-.9zM213.4 255.9h.9v.9h-.9zM209.0 257.8h.9v.9h-.9zM209.7 256.4h.9v.9h-.9zM213.2 264.6h.9v.9h-.9zM210.1 265.2h.9v.9h-.9zM207.8 267.8h.9v.9h-.9zM211.3 257.5h.9v.9h-.9zM211.8 260.2h.9v.9h-.9zM212.9 257.7h.9v.9h-.9zM211.2 256.7h.9v.9h-.9zM213.2 256.7h.9v.9h-.9zM211.2 252.7h.9v.9h-.9zM213.2 261.3h.9v.9h-.9zM210.3 263.6h.9v.9h-.9zM213.0 259.6h.9v.9h-.9zM208.4 261.9h.9v.9h-.9zM216.5 267.8h.9v.9h-.9zM211.4 258.9h.9v.9h-.9zM215.1 261.5h.9v.9h-.9zM211.3 259.4h.9v.9h-.9zM215.8 261.6h.9v.9h-.9zM212.9 263.8h.9v.9h-.9zM209.0 261.1h.9v.9h-.9zM211.3 257.5h.9v.9h-.9zM215.3 266.9h.9v.9h-.9zM214.3 259.7h.9v.9h-.9zM217.6 262.5h.9v.9h-.9zM207.1 256.5h.9v.9h-.9zM211.3 256.2h.9v.9h-.9zM209.0 262.0h.9v.9h-.9zM213.6 266.9h.9v.9h-.9zM212.3 259.7h.9v.9h-.9zM211.1 263.7h.9v.9h-.9zM216.5 266.6h.9v.9h-.9zM215.9 256.6h.9v.9h-.9zM216.4 255.2h.9v.9h-.9zM211.5 258.4h.9v.9h-.9zM218.8 256.1h.9v.9h-.9zM210.5 260.3h.9v.9h-.9zM216.4 261.7h.9v.9h-.9zM214.6 255.5h.9v.9h-.9zM212.1 264.9h.9v.9h-.9zM213.4 256.4h.9v.9h-.9zM212.2 265.2h.9v.9h-.9zM217.8 261.1h.9v.9h-.9zM211.0 266.6h.9v.9h-.9zM211.4 259.7h.9v.9h-.9zM214.3 259.3h.9v.9h-.9zM212.7 266.4h.9v.9h-.9zM214.0 253.0h.9v.9h-.9zM211.6 265.1h.9v.9h-.9zM212.7 254.8h.9v.9h-.9zM215.6 261.4h.9v.9h-.9zM213.3 261.8h.9v.9h-.9zM212.2 260.1h.9v.9h-.9zM214.8 256.9h.9v.9h-.9zM216.5 254.7h.9v.9h-.9zM218.8 259.6h.9v.9h-.9zM214.2 254.0h.9v.9h-.9zM215.3 255.7h.9v.9h-.9zM214.5 259.4h.9v.9h-.9zM211.0 267.1h.9v.9h-.9zM213.6 257.1h.9v.9h-.9zM212.2 260.7h.9v.9h-.9zM213.3 263.1h.9v.9h-.9zM211.7 260.3h.9v.9h-.9zM211.9 256.3h.9v.9h-.9zM215.4 255.8h.9v.9h-.9zM208.8 262.2h.9v.9h-.9zM211.8 261.8h.9v.9h-.9zM214.6 261.6h.9v.9h-.9zM213.4 266.1h.9v.9h-.9zM210.4 264.4h.9v.9h-.9zM212.8 260.7h.9v.9h-.9zM212.1 263.1h.9v.9h-.9zM214.5 257.4h.9v.9h-.9zM213.4 261.5h.9v.9h-.9zM212.9 270.2h.9v.9h-.9zM214.8 257.7h.9v.9h-.9zM216.0 260.6h.9v.9h-.9zM211.9 257.9h.9v.9h-.9zM209.0 262.7h.9v.9h-.9zM217.3 259.1h.9v.9h-.9zM211.1 251.9h.9v.9h-.9zM210.0 259.4h.9v.9h-.9zM211.5 258.7h.9v.9h-.9zM211.0 258.7h.9v.9h-.9zM212.6 260.2h.9v.9h-.9zM213.5 260.2h.9v.9h-.9zM211.1 258.2h.9v.9h-.9zM210.0 257.2h.9v.9h-.9zM213.2 261.3h.9v.9h-.9zM209.7 255.2h.9v.9h-.9zM211.8 254.1h.9v.9h-.9zM212.5 258.5h.9v.9h-.9zM211.3 266.4h.9v.9h-.9zM212.1 260.4h.9v.9h-.9zM208.5 263.0h.9v.9h-.9zM214.1 260.2h.9v.9h-.9zM207.5 259.1h.9v.9h-.9zM211.4 261.1h.9v.9h-.9zM213.1 257.1h.9v.9h-.9zM212.0 264.7h.9v.9h-.9zM216.1 251.9h.9v.9h-.9zM212.0 262.1h.9v.9h-.9zM212.1 260.7h.9v.9h-.9zM212.3 266.4h.9v.9h-.9zM215.1 258.5h.9v.9h-.9zM217.0 262.2h.9v.9h-.9zM217.7 257.3h.9v.9h-.9zM209.2 262.8h.9v.9h-.9zM213.3 251.8h.9v.9h-.9zM203.0 259.7h.9v.9h-.9zM213.4 255.8h.9v.9h-.9zM211.9 259.8h.9v.9h-.9zM209.5 264.7h.9v.9h-.9zM209.7 259.5h.9v.9h-.9zM213.2 257.2h.9v.9h-.9zM211.1 263.0h.9v.9h-.9zM208.9 259.3h.9v.9h-.9zM217.5 255.9h.9v.9h-.9zM209.1 257.1h.9v.9h-.9zM205.3 255.9h.9v.9h-.9zM210.0 255.6h.9v.9h-.9zM210.8 261.8h.9v.9h-.9zM213.2 254.8h.9v.9h-.9zM216.6 255.0h.9v.9h-.9zM217.1 257.1h.9v.9h-.9zM210.7 257.2h.9v.9h-.9zM216.9 259.7h.9v.9h-.9zM213.0 251.9h.9v.9h-.9zM213.0 257.8h.9v.9h-.9zM212.1 255.7h.9v.9h-.9zM208.8 264.7h.9v.9h-.9zM210.5 261.8h.9v.9h-.9zM214.6 259.9h.9v.9h-.9zM213.5 262.0h.9v.9h-.9zM212.2 258.8h.9v.9h-.9zM214.0 260.0h.9v.9h-.9zM212.3 247.4h.9v.9h-.9zM213.0 253.7h.9v.9h-.9zM216.2 264.6h.9v.9h-.9zM213.7 260.3h.9v.9h-.9zM207.6 258.4h.9v.9h-.9zM211.0 267.1h.9v.9h-.9zM209.5 269.0h.9v.9h-.9zM212.6 250.2h.9v.9h-.9zM218.0 258.2h.9v.9h-.9zM214.1 264.0h.9v.9h-.9zM208.8 257.0h.9v.9h-.9zM213.5 264.7h.9v.9h-.9zM212.6 261.7h.9v.9h-.9zM208.4 261.5h.9v.9h-.9zM210.6 257.6h.9v.9h-.9zM213.4 263.1h.9v.9h-.9zM211.3 261.1h.9v.9h-.9zM212.3 261.9h.9v.9h-.9zM211.9 265.3h.9v.9h-.9zM210.3 254.6h.9v.9h-.9zM216.5 256.0h.9v.9h-.9zM214.9 262.3h.9v.9h-.9zM208.6 257.9h.9v.9h-.9zM211.8 258.6h.9v.9h-.9zM209.1 260.0h.9v.9h-.9zM213.6 254.3h.9v.9h-.9zM213.2 260.1h.9v.9h-.9zM208.5 258.9h.9v.9h-.9zM215.5 262.4h.9v.9h-.9zM210.2 255.8h.9v.9h-.9zM213.1 260.9h.9v.9h-.9zM215.3 259.5h.9v.9h-.9zM215.2 256.2h.9v.9h-.9zM218.0 258.3h.9v.9h-.9zM210.5 256.6h.9v.9h-.9zM208.2 255.8h.9v.9h-.9zM212.2 261.2h.9v.9h-.9zM216.1 255.3h.9v.9h-.9zM211.0 262.1h.9v.9h-.9zM215.8 262.4h.9v.9h-.9zM213.7 254.0h.9v.9h-.9zM211.6 252.2h.9v.9h-.9zM211.1 264.5h.9v.9h-.9zM217.2 257.8h.9v.9h-.9zM214.6 264.9h.9v.9h-.9zM210.1 253.0h.9v.9h-.9zM211.2 249.7h.9v.9h-.9zM214.8 258.6h.9v.9h-.9zM212.2 259.2h.9v.9h-.9zM214.3 258.8h.9v.9h-.9zM209.7 261.7h.9v.9h-.9zM211.5 260.2h.9v.9h-.9zM211.1 259.0h.9v.9h-.9zM208.7 259.4h.9v.9h-.9zM212.1 263.6h.9v.9h-.9zM210.8 255.0h.9v.9h-.9zM214.8 250.2h.9v.9h-.9zM214.6 258.5h.9v.9h-.9zM211.7 259.2h.9v.9h-.9zM212.1 254.8h.9v.9h-.9zM214.8 254.9h.9v.9h-.9zM213.2 257.9h.9v.9h-.9zM210.9 256.0h.9v.9h-.9zM213.6 257.2h.9v.9h-.9zM216.5 262.6h.9v.9h-.9zM211.7 263.2h.9v.9h-.9zM206.5 266.3h.9v.9h-.9zM209.4 253.2h.9v.9h-.9zM215.8 251.6h.9v.9h-.9zM210.9 260.2h.9v.9h-.9zM207.3 258.1h.9v.9h-.9zM215.3 255.6h.9v.9h-.9zM216.8 254.9h.9v.9h-.9zM216.7 260.6h.9v.9h-.9zM213.2 257.7h.9v.9h-.9z" fill="#3a3a3a"/>
<path d="M209.8 269.0h.9v.9h-.9zM209.1 261.6h.9v.9h-.9zM215.5 264.9h.9v.9h-.9zM215.4 257.2h.9v.9h-.9zM208.8 263.2h.9v.9h-.9zM212.6 269.1h.9v.9h-.9zM206.5 261.5h.9v.9h-.9zM214.5 258.3h.9v.9h-.9zM207.6 261.8h.9v.9h-.9zM216.6 256.8h.9v.9h-.9zM210.0 254.6h.9v.9h-.9zM209.7 249.1h.9v.9h-.9zM223.7 260.0h.9v.9h-.9zM217.1 269.8h.9v.9h-.9zM211.2 265.7h.9v.9h-.9zM219.4 271.0h.9v.9h-.9zM216.6 256.7h.9v.9h-.9zM211.0 262.1h.9v.9h-.9zM218.4 256.8h.9v.9h-.9zM215.5 269.9h.9v.9h-.9zM216.0 261.9h.9v.9h-.9zM211.0 266.8h.9v.9h-.9zM212.1 264.5h.9v.9h-.9zM211.5 258.2h.9v.9h-.9zM211.7 254.9h.9v.9h-.9zM216.4 252.3h.9v.9h-.9zM214.5 258.8h.9v.9h-.9zM214.9 250.4h.9v.9h-.9zM213.3 262.3h.9v.9h-.9zM218.0 269.0h.9v.9h-.9zM214.5 261.5h.9v.9h-.9zM213.4 269.1h.9v.9h-.9zM217.7 266.2h.9v.9h-.9zM217.4 251.5h.9v.9h-.9zM216.5 275.9h.9v.9h-.9zM213.7 258.0h.9v.9h-.9zM218.0 249.1h.9v.9h-.9zM217.4 254.0h.9v.9h-.9zM215.0 254.1h.9v.9h-.9zM218.4 262.6h.9v.9h-.9zM211.4 262.0h.9v.9h-.9zM218.0 272.8h.9v.9h-.9zM214.2 260.7h.9v.9h-.9zM218.5 263.3h.9v.9h-.9zM211.5 275.7h.9v.9h-.9zM208.1 264.6h.9v.9h-.9zM218.9 265.5h.9v.9h-.9zM214.4 269.0h.9v.9h-.9zM210.3 262.5h.9v.9h-.9zM213.5 269.6h.9v.9h-.9zM215.2 263.3h.9v.9h-.9zM217.9 272.0h.9v.9h-.9zM209.6 280.6h.9v.9h-.9zM215.0 259.5h.9v.9h-.9zM219.5 245.8h.9v.9h-.9zM209.6 264.8h.9v.9h-.9zM211.5 254.8h.9v.9h-.9zM212.9 273.3h.9v.9h-.9zM213.9 268.8h.9v.9h-.9zM216.3 262.9h.9v.9h-.9zM213.9 258.4h.9v.9h-.9zM214.6 268.5h.9v.9h-.9zM213.2 262.8h.9v.9h-.9zM215.4 263.6h.9v.9h-.9zM214.9 250.3h.9v.9h-.9zM215.1 251.9h.9v.9h-.9zM215.9 261.9h.9v.9h-.9zM212.3 254.6h.9v.9h-.9zM216.9 260.1h.9v.9h-.9zM212.3 250.1h.9v.9h-.9zM218.9 259.3h.9v.9h-.9zM211.0 271.0h.9v.9h-.9zM215.6 246.1h.9v.9h-.9zM213.4 273.3h.9v.9h-.9zM212.9 258.0h.9v.9h-.9zM216.5 268.1h.9v.9h-.9zM210.8 258.4h.9v.9h-.9zM211.9 259.3h.9v.9h-.9zM209.5 258.2h.9v.9h-.9zM216.0 252.3h.9v.9h-.9zM217.1 266.3h.9v.9h-.9zM216.2 268.1h.9v.9h-.9zM211.0 252.2h.9v.9h-.9zM217.5 262.5h.9v.9h-.9zM215.1 269.4h.9v.9h-.9zM209.4 262.4h.9v.9h-.9zM213.5 256.1h.9v.9h-.9zM210.8 262.8h.9v.9h-.9zM214.8 271.4h.9v.9h-.9zM216.6 272.5h.9v.9h-.9zM212.1 264.4h.9v.9h-.9zM213.5 260.6h.9v.9h-.9zM211.9 271.8h.9v.9h-.9zM218.6 263.1h.9v.9h-.9zM204.7 254.7h.9v.9h-.9zM210.9 274.2h.9v.9h-.9zM217.3 261.0h.9v.9h-.9zM216.1 265.0h.9v.9h-.9zM213.3 261.9h.9v.9h-.9zM210.5 255.7h.9v.9h-.9zM213.1 255.3h.9v.9h-.9zM214.8 260.6h.9v.9h-.9zM210.8 265.0h.9v.9h-.9zM211.1 260.2h.9v.9h-.9zM210.5 267.0h.9v.9h-.9zM214.0 261.2h.9v.9h-.9zM212.9 265.9h.9v.9h-.9zM212.0 250.3h.9v.9h-.9zM219.2 263.3h.9v.9h-.9zM216.1 256.7h.9v.9h-.9z" fill="#777"/>
<path d="M226.0 207.7h.9v.9h-.9zM232.9 223.1h.9v.9h-.9zM229.2 219.7h.9v.9h-.9zM206.9 241.1h.9v.9h-.9zM228.6 211.0h.9v.9h-.9zM218.5 226.3h.9v.9h-.9zM232.3 232.2h.9v.9h-.9zM230.9 224.2h.9v.9h-.9zM232.5 233.2h.9v.9h-.9zM236.5 214.6h.9v.9h-.9zM228.8 238.1h.9v.9h-.9zM229.1 216.1h.9v.9h-.9zM238.1 212.1h.9v.9h-.9zM233.1 216.6h.9v.9h-.9zM213.5 236.0h.9v.9h-.9zM233.9 200.7h.9v.9h-.9zM239.5 222.9h.9v.9h-.9zM232.8 229.5h.9v.9h-.9zM233.0 203.3h.9v.9h-.9zM223.9 228.6h.9v.9h-.9zM226.1 219.2h.9v.9h-.9zM223.5 221.7h.9v.9h-.9zM229.2 223.4h.9v.9h-.9zM221.5 209.5h.9v.9h-.9zM228.2 218.4h.9v.9h-.9zM220.9 212.3h.9v.9h-.9zM230.3 200.1h.9v.9h-.9zM235.7 215.0h.9v.9h-.9zM225.4 242.0h.9v.9h-.9zM215.1 221.8h.9v.9h-.9zM214.6 226.9h.9v.9h-.9zM223.3 244.9h.9v.9h-.9zM243.7 211.8h.9v.9h-.9zM239.0 207.3h.9v.9h-.9zM223.7 236.3h.9v.9h-.9zM220.2 234.7h.9v.9h-.9zM225.9 216.3h.9v.9h-.9zM233.4 199.1h.9v.9h-.9zM227.5 225.2h.9v.9h-.9zM227.3 211.2h.9v.9h-.9zM213.8 228.6h.9v.9h-.9zM233.8 220.3h.9v.9h-.9zM228.0 218.2h.9v.9h-.9zM219.6 226.5h.9v.9h-.9zM246.7 203.1h.9v.9h-.9zM238.1 216.6h.9v.9h-.9zM235.2 206.2h.9v.9h-.9zM225.1 221.6h.9v.9h-.9zM207.3 255.2h.9v.9h-.9zM226.7 220.2h.9v.9h-.9zM222.1 229.2h.9v.9h-.9zM225.9 236.0h.9v.9h-.9zM225.4 227.2h.9v.9h-.9zM213.6 218.3h.9v.9h-.9zM219.8 224.8h.9v.9h-.9zM219.9 229.8h.9v.9h-.9zM221.1 231.3h.9v.9h-.9zM208.8 230.5h.9v.9h-.9zM208.1 239.9h.9v.9h-.9zM218.9 220.5h.9v.9h-.9zM220.6 223.2h.9v.9h-.9zM239.1 217.2h.9v.9h-.9zM223.0 236.0h.9v.9h-.9zM215.5 231.8h.9v.9h-.9zM219.9 230.1h.9v.9h-.9zM199.3 259.2h.9v.9h-.9zM240.7 199.5h.9v.9h-.9zM231.9 222.2h.9v.9h-.9zM220.8 215.4h.9v.9h-.9zM219.4 222.3h.9v.9h-.9zM229.2 208.8h.9v.9h-.9zM225.7 229.2h.9v.9h-.9zM224.9 228.2h.9v.9h-.9zM224.5 228.0h.9v.9h-.9zM227.0 240.0h.9v.9h-.9zM219.2 245.4h.9v.9h-.9zM210.9 231.2h.9v.9h-.9zM221.6 209.8h.9v.9h-.9zM218.3 227.9h.9v.9h-.9zM239.5 221.2h.9v.9h-.9zM210.3 230.2h.9v.9h-.9zM236.3 206.5h.9v.9h-.9zM236.0 236.2h.9v.9h-.9zM227.0 226.9h.9v.9h-.9zM221.0 230.9h.9v.9h-.9zM219.0 239.7h.9v.9h-.9zM218.7 219.7h.9v.9h-.9zM241.1 213.9h.9v.9h-.9zM236.7 217.4h.9v.9h-.9zM223.2 243.9h.9v.9h-.9zM230.6 226.8h.9v.9h-.9zM227.5 214.4h.9v.9h-.9zM228.6 225.5h.9v.9h-.9zM220.8 223.6h.9v.9h-.9zM211.9 236.5h.9v.9h-.9zM231.5 227.6h.9v.9h-.9zM234.8 225.7h.9v.9h-.9zM233.9 231.0h.9v.9h-.9zM233.7 196.8h.9v.9h-.9zM249.0 210.7h.9v.9h-.9zM220.2 235.7h.9v.9h-.9zM231.6 213.1h.9v.9h-.9zM224.4 226.9h.9v.9h-.9zM224.3 231.9h.9v.9h-.9zM212.8 235.5h.9v.9h-.9zM223.0 235.6h.9v.9h-.9zM228.3 234.2h.9v.9h-.9zM225.7 212.3h.9v.9h-.9zM229.9 210.2h.9v.9h-.9zM235.9 201.8h.9v.9h-.9zM227.3 224.7h.9v.9h-.9zM236.3 222.3h.9v.9h-.9zM237.1 229.5h.9v.9h-.9zM224.8 224.9h.9v.9h-.9zM227.8 242.1h.9v.9h-.9zM228.7 226.2h.9v.9h-.9zM234.0 207.3h.9v.9h-.9zM228.5 220.3h.9v.9h-.9zM239.2 224.8h.9v.9h-.9zM233.6 230.4h.9v.9h-.9zM220.4 232.0h.9v.9h-.9zM228.5 194.5h.9v.9h-.9zM234.4 235.2h.9v.9h-.9zM230.5 224.0h.9v.9h-.9zM228.5 224.2h.9v.9h-.9zM225.0 227.1h.9v.9h-.9zM224.5 232.8h.9v.9h-.9zM224.4 216.7h.9v.9h-.9zM238.7 226.1h.9v.9h-.9zM227.7 228.3h.9v.9h-.9zM212.0 246.6h.9v.9h-.9zM243.6 204.3h.9v.9h-.9zM241.8 213.3h.9v.9h-.9zM222.0 210.4h.9v.9h-.9zM243.6 206.9h.9v.9h-.9zM238.2 217.3h.9v.9h-.9zM228.5 238.0h.9v.9h-.9zM239.7 193.4h.9v.9h-.9zM242.2 198.2h.9v.9h-.9zM234.7 221.6h.9v.9h-.9zM237.8 221.5h.9v.9h-.9zM218.2 227.3h.9v.9h-.9zM221.0 221.9h.9v.9h-.9zM231.7 215.0h.9v.9h-.9zM215.4 227.8h.9v.9h-.9zM238.1 226.4h.9v.9h-.9zM224.3 217.9h.9v.9h-.9zM234.1 196.9h.9v.9h-.9zM231.7 229.6h.9v.9h-.9zM212.7 245.0h.9v.9h-.9zM227.3 224.1h.9v.9h-.9zM236.1 219.9h.9v.9h-.9zM226.1 230.3h.9v.9h-.9zM228.5 231.3h.9v.9h-.9zM229.1 239.1h.9v.9h-.9zM225.0 237.4h.9v.9h-.9zM230.2 211.7h.9v.9h-.9zM217.7 237.4h.9v.9h-.9zM217.5 225.0h.9v.9h-.9zM226.2 216.7h.9v.9h-.9zM235.3 200.0h.9v.9h-.9zM236.7 225.8h.9v.9h-.9zM226.7 225.4h.9v.9h-.9zM202.2 232.3h.9v.9h-.9zM236.6 228.8h.9v.9h-.9zM223.7 233.7h.9v.9h-.9zM224.0 238.0h.9v.9h-.9zM232.2 224.6h.9v.9h-.9zM238.2 212.2h.9v.9h-.9zM218.4 238.3h.9v.9h-.9zM231.1 235.2h.9v.9h-.9zM234.7 221.1h.9v.9h-.9zM232.7 225.7h.9v.9h-.9zM212.9 237.4h.9v.9h-.9zM225.4 228.6h.9v.9h-.9zM220.4 221.3h.9v.9h-.9zM225.0 232.7h.9v.9h-.9zM226.7 231.9h.9v.9h-.9zM223.3 242.5h.9v.9h-.9zM239.1 217.6h.9v.9h-.9zM218.9 241.3h.9v.9h-.9zM234.0 224.6h.9v.9h-.9zM227.7 223.7h.9v.9h-.9zM242.4 200.9h.9v.9h-.9zM219.6 211.2h.9v.9h-.9zM226.1 207.9h.9v.9h-.9zM221.0 222.6h.9v.9h-.9zM216.8 240.4h.9v.9h-.9zM229.1 221.8h.9v.9h-.9zM228.0 221.7h.9v.9h-.9zM230.5 206.2h.9v.9h-.9zM239.4 220.0h.9v.9h-.9zM231.0 206.6h.9v.9h-.9zM232.9 205.6h.9v.9h-.9zM235.2 200.3h.9v.9h-.9zM204.3 244.3h.9v.9h-.9zM225.6 228.9h.9v.9h-.9zM230.8 233.9h.9v.9h-.9zM231.7 221.0h.9v.9h-.9zM237.6 218.1h.9v.9h-.9zM229.0 217.5h.9v.9h-.9zM233.6 228.0h.9v.9h-.9zM217.4 242.8h.9v.9h-.9zM231.9 234.7h.9v.9h-.9zM231.7 220.4h.9v.9h-.9zM221.1 235.0h.9v.9h-.9zM220.2 243.0h.9v.9h-.9zM236.8 213.7h.9v.9h-.9zM237.7 196.8h.9v.9h-.9zM235.7 215.2h.9v.9h-.9zM232.7 221.7h.9v.9h-.9zM230.8 220.9h.9v.9h-.9zM222.8 229.7h.9v.9h-.9zM225.9 221.2h.9v.9h-.9zM227.1 218.7h.9v.9h-.9zM231.4 210.2h.9v.9h-.9zM222.1 230.7h.9v.9h-.9zM231.9 216.9h.9v.9h-.9zM206.6 245.9h.9v.9h-.9zM241.5 215.1h.9v.9h-.9zM230.6 202.6h.9v.9h-.9zM244.2 207.8h.9v.9h-.9zM234.6 212.0h.9v.9h-.9zM234.5 212.6h.9v.9h-.9zM226.5 223.2h.9v.9h-.9zM222.6 243.4h.9v.9h-.9zM227.5 229.2h.9v.9h-.9zM246.4 210.9h.9v.9h-.9zM238.9 226.9h.9v.9h-.9zM215.2 239.9h.9v.9h-.9zM225.0 223.1h.9v.9h-.9zM222.8 242.0h.9v.9h-.9zM216.1 228.8h.9v.9h-.9zM230.2 223.8h.9v.9h-.9zM218.7 258.9h.9v.9h-.9zM226.4 235.4h.9v.9h-.9zM224.7 219.3h.9v.9h-.9zM221.6 228.6h.9v.9h-.9zM233.3 217.5h.9v.9h-.9zM233.8 210.7h.9v.9h-.9zM224.8 223.5h.9v.9h-.9zM228.6 224.0h.9v.9h-.9zM228.8 223.6h.9v.9h-.9zM217.2 231.6h.9v.9h-.9zM227.3 216.7h.9v.9h-.9zM232.3 227.8h.9v.9h-.9zM217.1 246.1h.9v.9h-.9zM231.1 208.2h.9v.9h-.9zM242.5 224.0h.9v.9h-.9zM208.4 247.8h.9v.9h-.9zM230.0 223.2h.9v.9h-.9zM216.8 216.6h.9v.9h-.9zM219.1 229.1h.9v.9h-.9zM214.9 220.9h.9v.9h-.9zM234.4 231.1h.9v.9h-.9zM240.8 192.6h.9v.9h-.9zM228.9 215.6h.9v.9h-.9zM231.1 205.5h.9v.9h-.9zM224.6 244.8h.9v.9h-.9zM226.6 211.6h.9v.9h-.9zM230.5 208.3h.9v.9h-.9zM225.6 231.8h.9v.9h-.9zM231.8 228.0h.9v.9h-.9zM218.9 242.4h.9v.9h-.9zM227.3 230.2h.9v.9h-.9zM218.6 216.8h.9v.9h-.9zM224.8 224.3h.9v.9h-.9zM237.5 221.7h.9v.9h-.9zM241.3 219.0h.9v.9h-.9zM243.2 216.9h.9v.9h-.9zM241.4 199.8h.9v.9h-.9zM237.2 191.0h.9v.9h-.9zM232.1 223.0h.9v.9h-.9zM211.2 221.2h.9v.9h-.9zM232.6 207.4h.9v.9h-.9zM223.5 226.4h.9v.9h-.9zM226.0 225.3h.9v.9h-.9zM223.2 238.8h.9v.9h-.9zM216.0 226.8h.9v.9h-.9zM225.7 208.8h.9v.9h-.9zM223.3 210.4h.9v.9h-.9zM231.2 231.8h.9v.9h-.9zM240.1 222.4h.9v.9h-.9zM251.1 200.4h.9v.9h-.9zM223.4 239.3h.9v.9h-.9zM234.9 219.8h.9v.9h-.9zM223.9 222.1h.9v.9h-.9zM231.1 243.5h.9v.9h-.9zM238.7 202.8h.9v.9h-.9zM238.3 218.5h.9v.9h-.9zM242.9 209.7h.9v.9h-.9zM218.7 225.3h.9v.9h-.9zM221.2 239.0h.9v.9h-.9zM229.4 222.8h.9v.9h-.9zM232.2 224.3h.9v.9h-.9zM222.5 221.9h.9v.9h-.9zM232.4 233.3h.9v.9h-.9zM222.7 238.0h.9v.9h-.9zM237.0 214.9h.9v.9h-.9zM222.0 229.6h.9v.9h-.9zM235.7 233.4h.9v.9h-.9zM221.7 223.2h.9v.9h-.9zM236.2 209.8h.9v.9h-.9zM210.5 257.9h.9v.9h-.9zM219.2 228.6h.9v.9h-.9zM233.7 226.8h.9v.9h-.9zM213.8 223.9h.9v.9h-.9zM228.9 215.9h.9v.9h-.9zM228.2 227.5h.9v.9h-.9zM223.2 244.6h.9v.9h-.9zM215.8 233.1h.9v.9h-.9zM224.6 228.3h.9v.9h-.9zM236.3 228.1h.9v.9h-.9zM233.5 206.9h.9v.9h-.9zM232.8 237.9h.9v.9h-.9zM233.6 220.0h.9v.9h-.9zM250.7 205.1h.9v.9h-.9zM218.7 252.8h.9v.9h-.9zM232.7 236.0h.9v.9h-.9zM230.7 225.7h.9v.9h-.9zM225.5 225.2h.9v.9h-.9zM225.7 223.1h.9v.9h-.9zM223.1 223.3h.9v.9h-.9zM220.1 244.1h.9v.9h-.9zM223.1 232.4h.9v.9h-.9zM218.9 236.2h.9v.9h-.9zM232.1 208.3h.9v.9h-.9zM224.7 211.4h.9v.9h-.9zM215.0 243.1h.9v.9h-.9zM228.1 228.5h.9v.9h-.9zM223.8 213.4h.9v.9h-.9zM203.8 258.8h.9v.9h-.9zM226.0 244.6h.9v.9h-.9zM222.4 216.2h.9v.9h-.9zM224.0 226.0h.9v.9h-.9zM215.0 227.5h.9v.9h-.9zM239.9 201.5h.9v.9h-.9zM216.6 238.0h.9v.9h-.9zM226.1 236.6h.9v.9h-.9zM212.0 230.7h.9v.9h-.9zM227.2 228.1h.9v.9h-.9zM228.9 205.3h.9v.9h-.9zM229.8 237.9h.9v.9h-.9zM222.0 248.7h.9v.9h-.9zM228.2 217.1h.9v.9h-.9zM209.7 237.2h.9v.9h-.9zM229.1 224.8h.9v.9h-.9zM223.0 226.1h.9v.9h-.9zM244.3 225.9h.9v.9h-.9zM210.6 231.3h.9v.9h-.9zM212.9 249.1h.9v.9h-.9zM223.3 236.0h.9v.9h-.9zM220.0 216.0h.9v.9h-.9zM223.8 224.5h.9v.9h-.9zM229.4 228.4h.9v.9h-.9zM215.0 241.9h.9v.9h-.9zM217.0 253.2h.9v.9h-.9zM229.1 214.6h.9v.9h-.9zM223.5 208.6h.9v.9h-.9zM215.9 243.4h.9v.9h-.9zM230.8 203.0h.9v.9h-.9zM228.1 220.6h.9v.9h-.9zM233.3 219.9h.9v.9h-.9zM227.2 219.7h.9v.9h-.9zM242.7 203.6h.9v.9h-.9zM240.6 208.5h.9v.9h-.9zM237.6 220.4h.9v.9h-.9zM234.5 218.5h.9v.9h-.9zM225.7 233.4h.9v.9h-.9zM211.7 233.2h.9v.9h-.9zM233.8 214.8h.9v.9h-.9zM244.0 199.4h.9v.9h-.9zM213.4 233.0h.9v.9h-.9zM218.5 236.2h.9v.9h-.9zM222.2 236.4h.9v.9h-.9zM228.5 233.8h.9v.9h-.9zM232.5 217.9h.9v.9h-.9zM214.5 253.1h.9v.9h-.9zM220.1 231.3h.9v.9h-.9zM226.1 228.4h.9v.9h-.9zM241.6 214.6h.9v.9h-.9zM241.7 225.9h.9v.9h-.9zM229.7 197.9h.9v.9h-.9zM215.3 245.2h.9v.9h-.9zM232.1 219.0h.9v.9h-.9zM249.6 216.7h.9v.9h-.9zM223.4 232.8h.9v.9h-.9zM226.9 231.7h.9v.9h-.9zM210.6 240.7h.9v.9h-.9zM222.6 234.3h.9v.9h-.9zM234.6 201.8h.9v.9h-.9zM236.6 231.3h.9v.9h-.9zM230.6 214.0h.9v.9h-.9zM224.6 224.7h.9v.9h-.9zM226.4 225.1h.9v.9h-.9zM235.7 209.8h.9v.9h-.9zM224.3 233.7h.9v.9h-.9zM226.1 217.4h.9v.9h-.9zM237.2 208.7h.9v.9h-.9zM230.9 219.0h.9v.9h-.9zM214.2 256.0h.9v.9h-.9zM233.4 211.4h.9v.9h-.9zM229.0 226.1h.9v.9h-.9zM227.0 219.6h.9v.9h-.9zM221.0 232.2h.9v.9h-.9zM224.0 226.8h.9v.9h-.9zM220.8 244.2h.9v.9h-.9zM222.8 239.6h.9v.9h-.9zM238.7 227.0h.9v.9h-.9zM227.6 241.2h.9v.9h-.9zM225.3 213.8h.9v.9h-.9zM248.6 197.3h.9v.9h-.9zM209.9 238.9h.9v.9h-.9zM220.3 241.5h.9v.9h-.9zM242.8 214.7h.9v.9h-.9zM207.8 242.7h.9v.9h-.9zM224.2 206.0h.9v.9h-.9zM236.5 213.2h.9v.9h-.9zM222.1 229.3h.9v.9h-.9zM231.7 222.0h.9v.9h-.9zM228.1 232.7h.9v.9h-.9zM225.7 233.5h.9v.9h-.9zM231.4 213.6h.9v.9h-.9zM236.1 217.2h.9v.9h-.9zM244.1 211.7h.9v.9h-.9zM217.1 240.8h.9v.9h-.9zM229.5 217.2h.9v.9h-.9zM234.8 237.2h.9v.9h-.9zM230.2 227.8h.9v.9h-.9zM224.1 246.9h.9v.9h-.9zM230.1 210.6h.9v.9h-.9zM212.6 216.7h.9v.9h-.9zM216.5 249.4h.9v.9h-.9zM220.4 233.8h.9v.9h-.9zM231.8 211.7h.9v.9h-.9zM224.7 211.4h.9v.9h-.9zM229.9 232.2h.9v.9h-.9zM210.7 233.3h.9v.9h-.9zM235.8 212.4h.9v.9h-.9zM211.6 233.8h.9v.9h-.9zM229.0 221.2h.9v.9h-.9zM244.6 204.2h.9v.9h-.9zM214.6 242.2h.9v.9h-.9zM221.9 223.8h.9v.9h-.9zM229.9 234.9h.9v.9h-.9zM233.7 211.8h.9v.9h-.9zM228.3 217.5h.9v.9h-.9zM241.8 209.6h.9v.9h-.9zM224.2 223.6h.9v.9h-.9zM232.7 228.4h.9v.9h-.9zM225.0 228.6h.9v.9h-.9zM206.4 248.5h.9v.9h-.9zM219.8 217.9h.9v.9h-.9zM220.0 227.0h.9v.9h-.9zM222.7 241.1h.9v.9h-.9zM232.7 209.4h.9v.9h-.9zM217.5 224.6h.9v.9h-.9zM214.6 255.3h.9v.9h-.9zM232.4 220.6h.9v.9h-.9zM241.4 213.0h.9v.9h-.9z" fill="#a3a3a3"/>
<path d="M231.6 227.5h.9v.9h-.9zM232.1 217.2h.9v.9h-.9zM224.8 230.2h.9v.9h-.9zM229.1 223.9h.9v.9h-.9zM230.9 215.0h.9v.9h-.9zM217.4 227.9h.9v.9h-.9zM231.9 216.9h.9v.9h-.9zM228.5 223.1h.9v.9h-.9zM230.4 213.3h.9v.9h-.9zM232.1 223.5h.9v.9h-.9zM228.5 211.6h.9v.9h-.9zM224.8 219.4h.9v.9h-.9zM222.1 227.0h.9v.9h-.9zM231.4 213.7h.9v.9h-.9zM231.8 215.2h.9v.9h-.9zM228.6 215.7h.9v.9h-.9zM225.8 214.7h.9v.9h-.9zM227.9 223.5h.9v.9h-.9zM225.6 227.2h.9v.9h-.9zM226.3 230.5h.9v.9h-.9zM223.6 222.3h.9v.9h-.9zM230.2 218.7h.9v.9h-.9zM235.9 219.1h.9v.9h-.9zM221.1 233.5h.9v.9h-.9zM228.3 221.8h.9v.9h-.9zM220.1 229.4h.9v.9h-.9zM224.9 225.1h.9v.9h-.9zM224.2 227.3h.9v.9h-.9zM232.0 213.6h.9v.9h-.9zM213.8 235.1h.9v.9h-.9zM221.7 228.1h.9v.9h-.9zM241.7 214.7h.9v.9h-.9zM223.5 223.7h.9v.9h-.9zM228.4 214.8h.9v.9h-.9zM225.7 217.5h.9v.9h-.9zM226.4 226.3h.9v.9h-.9zM227.0 219.0h.9v.9h-.9zM226.9 222.0h.9v.9h-.9zM225.0 224.5h.9v.9h-.9zM220.8 219.3h.9v.9h-.9zM226.6 226.8h.9v.9h-.9zM223.9 226.2h.9v.9h-.9zM228.2 224.2h.9v.9h-.9zM232.4 208.3h.9v.9h-.9zM232.7 225.7h.9v.9h-.9zM235.8 211.9h.9v.9h-.9zM229.8 218.9h.9v.9h-.9zM218.8 234.0h.9v.9h-.9zM223.5 217.6h.9v.9h-.9zM220.0 235.4h.9v.9h-.9zM230.9 220.3h.9v.9h-.9zM241.4 196.2h.9v.9h-.9zM229.2 224.8h.9v.9h-.9zM235.4 218.3h.9v.9h-.9zM224.9 224.6h.9v.9h-.9zM229.5 221.2h.9v.9h-.9zM228.9 222.4h.9v.9h-.9zM222.2 228.1h.9v.9h-.9zM227.1 212.6h.9v.9h-.9zM217.1 226.8h.9v.9h-.9zM223.4 227.1h.9v.9h-.9zM230.9 223.2h.9v.9h-.9zM226.8 221.4h.9v.9h-.9zM233.7 214.7h.9v.9h-.9zM235.5 215.7h.9v.9h-.9zM226.5 222.6h.9v.9h-.9zM222.2 227.3h.9v.9h-.9zM222.6 225.7h.9v.9h-.9zM225.3 227.0h.9v.9h-.9zM236.1 218.8h.9v.9h-.9zM218.7 229.2h.9v.9h-.9zM229.0 229.0h.9v.9h-.9zM224.3 227.4h.9v.9h-.9zM224.1 219.7h.9v.9h-.9zM224.4 226.7h.9v.9h-.9zM218.9 227.6h.9v.9h-.9zM237.6 218.3h.9v.9h-.9zM237.4 203.6h.9v.9h-.9zM231.9 229.2h.9v.9h-.9zM226.7 223.1h.9v.9h-.9zM221.9 236.2h.9v.9h-.9zM228.8 219.1h.9v.9h-.9zM216.9 234.8h.9v.9h-.9zM236.1 225.9h.9v.9h-.9zM239.2 215.2h.9v.9h-.9zM233.5 218.2h.9v.9h-.9zM222.8 230.6h.9v.9h-.9zM230.4 226.3h.9v.9h-.9zM224.9 226.5h.9v.9h-.9zM221.4 224.0h.9v.9h-.9zM226.3 221.5h.9v.9h-.9zM230.5 222.6h.9v.9h-.9zM226.6 212.7h.9v.9h-.9zM230.5 214.4h.9v.9h-.9zM230.2 220.6h.9v.9h-.9zM226.9 220.3h.9v.9h-.9zM225.5 220.4h.9v.9h-.9zM233.5 216.3h.9v.9h-.9zM226.5 226.4h.9v.9h-.9zM227.1 229.3h.9v.9h-.9zM239.1 212.8h.9v.9h-.9zM229.7 219.2h.9v.9h-.9zM228.8 217.2h.9v.9h-.9zM227.6 225.0h.9v.9h-.9zM229.6 219.6h.9v.9h-.9zM232.4 218.5h.9v.9h-.9zM217.2 230.1h.9v.9h-.9zM225.6 229.4h.9v.9h-.9zM235.1 215.7h.9v.9h-.9zM226.3 225.2h.9v.9h-.9zM234.8 214.2h.9v.9h-.9zM230.6 221.6h.9v.9h-.9zM220.9 232.0h.9v.9h-.9zM214.4 237.6h.9v.9h-.9zM225.6 225.0h.9v.9h-.9zM226.6 221.4h.9v.9h-.9zM216.5 229.8h.9v.9h-.9zM229.7 214.9h.9v.9h-.9zM231.5 209.2h.9v.9h-.9zM231.7 232.1h.9v.9h-.9zM232.9 219.3h.9v.9h-.9zM223.3 233.3h.9v.9h-.9zM227.2 220.1h.9v.9h-.9zM228.0 215.4h.9v.9h-.9zM228.0 220.8h.9v.9h-.9zM226.0 218.1h.9v.9h-.9zM236.0 215.5h.9v.9h-.9zM232.3 212.7h.9v.9h-.9zM221.2 235.4h.9v.9h-.9zM217.5 239.1h.9v.9h-.9z" fill="#929292"/>
<path d="M201.9 245.8h.9v.9h-.9zM203.4 265.1h.9v.9h-.9zM207.4 249.6h.9v.9h-.9zM211.8 253.3h.9v.9h-.9zM209.0 245.9h.9v.9h-.9zM215.5 254.8h.9v.9h-.9zM211.7 249.7h.9v.9h-.9zM196.0 254.1h.9v.9h-.9zM223.4 264.1h.9v.9h-.9zM210.7 272.8h.9v.9h-.9zM210.2 269.6h.9v.9h-.9zM216.7 246.6h.9v.9h-.9zM239.9 227.4h.9v.9h-.9zM200.7 221.7h.9v.9h-.9zM213.4 227.1h.9v.9h-.9zM218.2 259.3h.9v.9h-.9zM199.4 229.9h.9v.9h-.9zM206.2 188.3h.9v.9h-.9zM210.2 278.7h.9v.9h-.9zM231.3 261.8h.9v.9h-.9zM221.5 238.2h.9v.9h-.9zM228.3 246.4h.9v.9h-.9zM226.1 249.5h.9v.9h-.9zM225.2 238.4h.9v.9h-.9zM227.7 206.4h.9v.9h-.9zM195.8 233.5h.9v.9h-.9zM215.5 202.1h.9v.9h-.9zM222.1 221.4h.9v.9h-.9zM211.8 221.3h.9v.9h-.9zM214.9 254.4h.9v.9h-.9zM220.8 245.0h.9v.9h-.9zM207.6 256.6h.9v.9h-.9zM216.0 263.5h.9v.9h-.9zM208.6 247.0h.9v.9h-.9zM226.5 227.1h.9v.9h-.9zM221.0 260.7h.9v.9h-.9zM213.2 193.6h.9v.9h-.9zM212.8 252.5h.9v.9h-.9zM214.7 278.5h.9v.9h-.9zM200.8 276.2h.9v.9h-.9zM250.1 271.5h.9v.9h-.9zM231.2 266.0h.9v.9h-.9zM203.9 259.0h.9v.9h-.9zM210.2 231.2h.9v.9h-.9zM204.1 260.4h.9v.9h-.9zM241.4 282.8h.9v.9h-.9zM235.3 207.2h.9v.9h-.9zM210.7 249.3h.9v.9h-.9zM222.6 258.5h.9v.9h-.9zM203.9 252.7h.9v.9h-.9zM241.8 239.5h.9v.9h-.9zM204.4 256.7h.9v.9h-.9zM205.9 267.7h.9v.9h-.9zM209.6 254.2h.9v.9h-.9zM225.7 220.3h.9v.9h-.9zM225.9 249.9h.9v.9h-.9zM194.1 265.2h.9v.9h-.9z" fill="#bbbbbb"/>
<path d="M209.4 278.1h.9v.9h-.9zM213.9 268.9h.9v.9h-.9zM213.5 267.7h.9v.9h-.9zM215.6 271.6h.9v.9h-.9zM214.1 277.4h.9v.9h-.9zM215.1 274.2h.9v.9h-.9zM215.9 268.0h.9v.9h-.9zM215.2 264.8h.9v.9h-.9zM212.4 269.2h.9v.9h-.9zM215.5 269.9h.9v.9h-.9zM214.7 271.8h.9v.9h-.9zM209.0 264.5h.9v.9h-.9zM211.7 272.1h.9v.9h-.9zM211.4 273.8h.9v.9h-.9zM215.4 277.5h.9v.9h-.9zM214.9 278.5h.9v.9h-.9zM210.9 271.3h.9v.9h-.9zM213.9 272.1h.9v.9h-.9zM216.1 275.3h.9v.9h-.9zM217.7 276.9h.9v.9h-.9zM213.6 269.7h.9v.9h-.9zM212.0 271.9h.9v.9h-.9zM212.0 279.0h.9v.9h-.9zM212.9 273.2h.9v.9h-.9zM217.1 275.3h.9v.9h-.9zM216.0 267.3h.9v.9h-.9zM211.0 271.7h.9v.9h-.9zM209.8 272.8h.9v.9h-.9zM211.5 271.5h.9v.9h-.9zM213.8 277.9h.9v.9h-.9zM211.0 273.9h.9v.9h-.9zM216.4 274.7h.9v.9h-.9zM216.4 270.8h.9v.9h-.9zM214.3 265.9h.9v.9h-.9zM217.1 271.7h.9v.9h-.9zM216.6 276.8h.9v.9h-.9zM220.3 269.3h.9v.9h-.9zM212.6 269.1h.9v.9h-.9zM213.3 271.3h.9v.9h-.9zM215.2 264.5h.9v.9h-.9z" fill="#999"/>
<polygon points="199.8,181.9 256.9,180.4 238.7,251.8 199,250.1" fill="none" stroke="#555" stroke-width="0.8"/>
<text x="236.8" y="193.6" font-size="8.7" font-weight="bold" text-anchor="start" fill="#000">33%</text>
<text x="236.6" y="283.6" font-size="11.1" font-weight="bold" text-anchor="start" fill="#000">Leukemia</text>
<line x1="186.8" y1="199.6787911313814" x2="188.3" y2="199.6787911313814" stroke="#999" stroke-width="0.5"/>
<line x1="186.8" y1="194.34322598199424" x2="188.3" y2="194.34322598199424" stroke="#999" stroke-width="0.5"/>
<line x1="186.8" y1="190.55758226276276" x2="188.3" y2="190.55758226276276" stroke="#999" stroke-width="0.5"/>
<line x1="186.8" y1="187.62120886861865" x2="188.3" y2="187.62120886861865" stroke="#999" stroke-width="0.5"/>
<line x1="186.8" y1="185.2220171133756" x2="188.3" y2="185.2220171133756" stroke="#999" stroke-width="0.5"/>
<line x1="186.8" y1="183.19352938756802" x2="188.3" y2="183.19352938756802" stroke="#999" stroke-width="0.5"/>
<line x1="186.8" y1="181.4363733941441" x2="188.3" y2="181.4363733941441" stroke="#999" stroke-width="0.5"/>
<line x1="186.8" y1="179.88645196398846" x2="188.3" y2="179.88645196398846" stroke="#999" stroke-width="0.5"/>
<line x1="185.3" y1="178.5" x2="188.3" y2="178.5" stroke="#777" stroke-width="0.6"/>
<text x="184.0" y="179.1" font-size="4.0" text-anchor="middle" fill="#444" transform="rotate(-90 184.0 179.1)">10</text>
<text x="180.70000000000002" y="176.1" font-size="2.8" text-anchor="middle" fill="#444" transform="rotate(-90 180.70000000000002 176.1)">1</text>
<line x1="186.8" y1="229.9787911313814" x2="188.3" y2="229.9787911313814" stroke="#999" stroke-width="0.5"/>
<line x1="186.8" y1="224.64322598199425" x2="188.3" y2="224.64322598199425" stroke="#999" stroke-width="0.5"/>
<line x1="186.8" y1="220.85758226276278" x2="188.3" y2="220.85758226276278" stroke="#999" stroke-width="0.5"/>
<line x1="186.8" y1="217.92120886861866" x2="188.3" y2="217.92120886861866" stroke="#999" stroke-width="0.5"/>
<line x1="186.8" y1="215.52201711337563" x2="188.3" y2="215.52201711337563" stroke="#999" stroke-width="0.5"/>
<line x1="186.8" y1="213.49352938756803" x2="188.3" y2="213.49352938756803" stroke="#999" stroke-width="0.5"/>
<line x1="186.8" y1="211.73637339414412" x2="188.3" y2="211.73637339414412" stroke="#999" stroke-width="0.5"/>
<line x1="186.8" y1="210.18645196398847" x2="188.3" y2="210.18645196398847" stroke="#999" stroke-width="0.5"/>
<line x1="185.3" y1="208.8" x2="188.3" y2="208.8" stroke="#777" stroke-width="0.6"/>
<text x="184.0" y="209.4" font-size="4.0" text-anchor="middle" fill="#444" transform="rotate(-90 184.0 209.4)">10</text>
<text x="180.70000000000002" y="206.4" font-size="2.8" text-anchor="middle" fill="#444" transform="rotate(-90 180.70000000000002 206.4)">2</text>
<line x1="186.8" y1="260.27879113138135" x2="188.3" y2="260.27879113138135" stroke="#999" stroke-width="0.5"/>
<line x1="186.8" y1="254.9432259819942" x2="188.3" y2="254.9432259819942" stroke="#999" stroke-width="0.5"/>
<line x1="186.8" y1="251.15758226276273" x2="188.3" y2="251.15758226276273" stroke="#999" stroke-width="0.5"/>
<line x1="186.8" y1="248.22120886861862" x2="188.3" y2="248.22120886861862" stroke="#999" stroke-width="0.5"/>
<line x1="186.8" y1="245.82201711337558" x2="188.3" y2="245.82201711337558" stroke="#999" stroke-width="0.5"/>
<line x1="186.8" y1="243.793529387568" x2="188.3" y2="243.793529387568" stroke="#999" stroke-width="0.5"/>
<line x1="186.8" y1="242.03637339414408" x2="188.3" y2="242.03637339414408" stroke="#999" stroke-width="0.5"/>
<line x1="186.8" y1="240.48645196398843" x2="188.3" y2="240.48645196398843" stroke="#999" stroke-width="0.5"/>
<line x1="185.3" y1="239.1" x2="188.3" y2="239.1" stroke="#777" stroke-width="0.6"/>
<text x="184.0" y="239.7" font-size="4.0" text-anchor="middle" fill="#444" transform="rotate(-90 184.0 239.7)">10</text>
<text x="180.70000000000002" y="236.7" font-size="2.8" text-anchor="middle" fill="#444" transform="rotate(-90 180.70000000000002 236.7)">3</text>
<line x1="186.8" y1="290.57879113138137" x2="188.3" y2="290.57879113138137" stroke="#999" stroke-width="0.5"/>
<line x1="186.8" y1="285.2432259819942" x2="188.3" y2="285.2432259819942" stroke="#999" stroke-width="0.5"/>
<line x1="186.8" y1="281.45758226276274" x2="188.3" y2="281.45758226276274" stroke="#999" stroke-width="0.5"/>
<line x1="186.8" y1="278.5212088686186" x2="188.3" y2="278.5212088686186" stroke="#999" stroke-width="0.5"/>
<line x1="186.8" y1="276.1220171133756" x2="188.3" y2="276.1220171133756" stroke="#999" stroke-width="0.5"/>
<line x1="186.8" y1="274.093529387568" x2="188.3" y2="274.093529387568" stroke="#999" stroke-width="0.5"/>
<line x1="186.8" y1="272.3363733941441" x2="188.3" y2="272.3363733941441" stroke="#999" stroke-width="0.5"/>
<line x1="186.8" y1="270.78645196398844" x2="188.3" y2="270.78645196398844" stroke="#999" stroke-width="0.5"/>
<line x1="185.3" y1="269.4" x2="188.3" y2="269.4" stroke="#777" stroke-width="0.6"/>
<text x="184.0" y="270.0" font-size="4.0" text-anchor="middle" fill="#444" transform="rotate(-90 184.0 270.0)">10</text>
<text x="180.70000000000002" y="267.0" font-size="2.8" text-anchor="middle" fill="#444" transform="rotate(-90 180.70000000000002 267.0)">4</text>
<line x1="188.4" y1="286.5" x2="188.4" y2="288.7" stroke="#888" stroke-width="0.5"/>
<line x1="192.24" y1="286.5" x2="192.24" y2="287.8" stroke="#888" stroke-width="0.5"/>
<line x1="196.08" y1="286.5" x2="196.08" y2="287.8" stroke="#888" stroke-width="0.5"/>
<line x1="199.92000000000002" y1="286.5" x2="199.92000000000002" y2="287.8" stroke="#888" stroke-width="0.5"/>
<line x1="203.76" y1="286.5" x2="203.76" y2="287.8" stroke="#888" stroke-width="0.5"/>
<line x1="207.6" y1="286.5" x2="207.6" y2="288.7" stroke="#888" stroke-width="0.5"/>
<line x1="211.44" y1="286.5" x2="211.44" y2="287.8" stroke="#888" stroke-width="0.5"/>
<line x1="215.28" y1="286.5" x2="215.28" y2="287.8" stroke="#888" stroke-width="0.5"/>
<line x1="219.12" y1="286.5" x2="219.12" y2="287.8" stroke="#888" stroke-width="0.5"/>
<line x1="222.96" y1="286.5" x2="222.96" y2="287.8" stroke="#888" stroke-width="0.5"/>
<line x1="226.8" y1="286.5" x2="226.8" y2="288.7" stroke="#888" stroke-width="0.5"/>
<line x1="230.64" y1="286.5" x2="230.64" y2="287.8" stroke="#888" stroke-width="0.5"/>
<line x1="234.48000000000002" y1="286.5" x2="234.48000000000002" y2="287.8" stroke="#888" stroke-width="0.5"/>
<line x1="238.32" y1="286.5" x2="238.32" y2="287.8" stroke="#888" stroke-width="0.5"/>
<line x1="242.16" y1="286.5" x2="242.16" y2="287.8" stroke="#888" stroke-width="0.5"/>
<line x1="246.0" y1="286.5" x2="246.0" y2="288.7" stroke="#888" stroke-width="0.5"/>
<line x1="249.84" y1="286.5" x2="249.84" y2="287.8" stroke="#888" stroke-width="0.5"/>
<line x1="253.68" y1="286.5" x2="253.68" y2="287.8" stroke="#888" stroke-width="0.5"/>
<line x1="257.52" y1="286.5" x2="257.52" y2="287.8" stroke="#888" stroke-width="0.5"/>
<line x1="261.36" y1="286.5" x2="261.36" y2="287.8" stroke="#888" stroke-width="0.5"/>
<line x1="265.2" y1="286.5" x2="265.2" y2="288.7" stroke="#888" stroke-width="0.5"/>
<line x1="269.04" y1="286.5" x2="269.04" y2="287.8" stroke="#888" stroke-width="0.5"/>
<line x1="272.88" y1="286.5" x2="272.88" y2="287.8" stroke="#888" stroke-width="0.5"/>
<line x1="276.72" y1="286.5" x2="276.72" y2="287.8" stroke="#888" stroke-width="0.5"/>
<line x1="280.56" y1="286.5" x2="280.56" y2="287.8" stroke="#888" stroke-width="0.5"/>
<line x1="284.4" y1="286.5" x2="284.4" y2="288.7" stroke="#888" stroke-width="0.5"/>
<text x="207.6" y="295.7" font-size="4.0" text-anchor="middle" fill="#666">50</text>
<text x="226.8" y="295.7" font-size="4.0" text-anchor="middle" fill="#666">100</text>
<text x="246.0" y="295.7" font-size="4.0" text-anchor="middle" fill="#666">150</text>
<text x="265.2" y="295.7" font-size="4.0" text-anchor="middle" fill="#666">200</text>
<text x="284.4" y="295.7" font-size="4.0" text-anchor="middle" fill="#666">250</text>
<line x1="21.9" y1="245" x2="21.9" y2="266.7" stroke="#000" stroke-width="1.2"/>
<path d="M21.9 241.4 L19.8 247 L24 247 Z" fill="#000"/>
<text x="25.2" y="283.6" font-size="9.3" font-weight="bold" text-anchor="middle" fill="#000" transform="rotate(-90 25.2 283.6)">BrdU</text>
<text x="41.5" y="309" font-size="9.6" font-weight="bold" text-anchor="start" fill="#000">7-AAD</text>
<line x1="71.5" y1="305.8" x2="99.5" y2="305.8" stroke="#000" stroke-width="1.2"/>
<path d="M104.4 305.8 L98.8 303.7 L98.8 307.9 Z" fill="#000"/>
<line x1="351.2" y1="178.3" x2="351.2" y2="279" stroke="#000" stroke-width="1.2"/>
<line x1="351.2" y1="279" x2="506.4" y2="279" stroke="#000" stroke-width="1.2"/>
<line x1="348.2" y1="279.0" x2="351.2" y2="279.0" stroke="#000" stroke-width="1.1"/>
<text x="344.7" y="282.3" font-size="9.2" font-weight="bold" text-anchor="end" fill="#000">0</text>
<line x1="348.2" y1="266.475" x2="351.2" y2="266.475" stroke="#000" stroke-width="1.1"/>
<text x="344.7" y="269.77500000000003" font-size="9.2" font-weight="bold" text-anchor="end" fill="#000">5</text>
<line x1="348.2" y1="253.95" x2="351.2" y2="253.95" stroke="#000" stroke-width="1.1"/>
<text x="344.7" y="257.25" font-size="9.2" font-weight="bold" text-anchor="end" fill="#000">10</text>
<line x1="348.2" y1="241.425" x2="351.2" y2="241.425" stroke="#000" stroke-width="1.1"/>
<text x="344.7" y="244.72500000000002" font-size="9.2" font-weight="bold" text-anchor="end" fill="#000">15</text>
<line x1="348.2" y1="228.9" x2="351.2" y2="228.9" stroke="#000" stroke-width="1.1"/>
<text x="344.7" y="232.20000000000002" font-size="9.2" font-weight="bold" text-anchor="end" fill="#000">20</text>
<line x1="348.2" y1="216.375" x2="351.2" y2="216.375" stroke="#000" stroke-width="1.1"/>
<text x="344.7" y="219.675" font-size="9.2" font-weight="bold" text-anchor="end" fill="#000">25</text>
<line x1="348.2" y1="203.85000000000002" x2="351.2" y2="203.85000000000002" stroke="#000" stroke-width="1.1"/>
<text x="344.7" y="207.15000000000003" font-size="9.2" font-weight="bold" text-anchor="end" fill="#000">30</text>
<line x1="348.2" y1="191.325" x2="351.2" y2="191.325" stroke="#000" stroke-width="1.1"/>
<text x="344.7" y="194.625" font-size="9.2" font-weight="bold" text-anchor="end" fill="#000">35</text>
<line x1="348.2" y1="178.8" x2="351.2" y2="178.8" stroke="#000" stroke-width="1.1"/>
<text x="344.7" y="182.10000000000002" font-size="9.2" font-weight="bold" text-anchor="end" fill="#000">40</text>
<text x="327.6" y="225.7" font-size="10" font-weight="bold" text-anchor="middle" fill="#000" transform="rotate(-90 327.6 225.7)">% BrdU<tspan dy="-3.6" font-size="6.2">+</tspan><tspan dy="3.6"> cells</tspan></text>
<rect x="375.2" y="237.8" width="31" height="41.19999999999999" fill="#fff" stroke="#000" stroke-width="1.1"/>
<line x1="390.8" y1="230.6" x2="390.8" y2="246" stroke="#000" stroke-width="0.8"/>
<line x1="389" y1="230.6" x2="392.6" y2="230.6" stroke="#000" stroke-width="0.8"/>
<line x1="389" y1="246" x2="392.6" y2="246" stroke="#000" stroke-width="0.8"/>
<rect x="452.5" y="205.6" width="31" height="73.4" fill="#000" stroke="none" stroke-width="0"/>
<line x1="467.8" y1="192.3" x2="467.8" y2="206" stroke="#000" stroke-width="1.1"/>
<line x1="466.6" y1="192.3" x2="469.0" y2="192.3" stroke="#000" stroke-width="1.0"/>
<circle cx="468" cy="182.7" r="1.25" fill="#111"/><circle cx="471.8" cy="182.7" r="1.25" fill="#111"/>
<text x="391.1" y="296.9" font-size="9.4" font-weight="bold" text-anchor="middle" fill="#000">Control</text>
<text x="468" y="296.9" font-size="9.3" font-weight="bold" text-anchor="middle" fill="#000">Leukemia</text>
<line x1="39.5" y1="341.4" x2="39.5" y2="408.1" stroke="#000" stroke-width="1.3"/>
<line x1="39.5" y1="415.9" x2="39.5" y2="460.4" stroke="#000" stroke-width="1.3"/>
<line x1="37.6" y1="408.1" x2="42.6" y2="408.1" stroke="#000" stroke-width="1.2"/>
<line x1="37.6" y1="415.9" x2="42.6" y2="415.9" stroke="#000" stroke-width="1.2"/>
<line x1="36.5" y1="342.29" x2="39.5" y2="342.29" stroke="#000" stroke-width="1.2"/>
<text x="36.8" y="345.59000000000003" font-size="8.8" font-weight="bold" text-anchor="end" fill="#000">80</text>
<line x1="36.5" y1="361.06" x2="39.5" y2="361.06" stroke="#000" stroke-width="1.2"/>
<text x="36.8" y="364.36" font-size="8.8" font-weight="bold" text-anchor="end" fill="#000">60</text>
<line x1="36.5" y1="379.83000000000004" x2="39.5" y2="379.83000000000004" stroke="#000" stroke-width="1.2"/>
<text x="36.8" y="383.13000000000005" font-size="8.8" font-weight="bold" text-anchor="end" fill="#000">40</text>
<line x1="36.5" y1="398.6" x2="39.5" y2="398.6" stroke="#000" stroke-width="1.2"/>
<text x="36.8" y="401.90000000000003" font-size="8.8" font-weight="bold" text-anchor="end" fill="#000">20</text>
<line x1="36.5" y1="416.0" x2="39.5" y2="416.0" stroke="#000" stroke-width="1.2"/>
<text x="36.8" y="419.4" font-size="8.8" font-weight="bold" text-anchor="end" fill="#000">10</text>
<line x1="36.5" y1="438.2" x2="39.5" y2="438.2" stroke="#000" stroke-width="1.2"/>
<text x="36.8" y="441.59999999999997" font-size="8.8" font-weight="bold" text-anchor="end" fill="#000">5</text>
<line x1="36.5" y1="460.4" x2="39.5" y2="460.4" stroke="#000" stroke-width="1.2"/>
<text x="36.8" y="463.79999999999995" font-size="8.8" font-weight="bold" text-anchor="end" fill="#000">0</text>
<line x1="39.5" y1="460.4" x2="216.25" y2="460.4" stroke="#000" stroke-width="1.3"/>
<text x="18.9" y="399" font-size="9.9" font-weight="bold" text-anchor="middle" fill="#000" transform="rotate(-90 18.9 399)">CFCs/10<tspan dy="-3.7" font-size="5.8">4</tspan><tspan dy="3.7"> CD45.1</tspan><tspan dy="-3.7" font-size="5.8">+</tspan><tspan dy="3.7"> BMNCs</tspan></text>
<line x1="62.8" y1="419.3" x2="62.8" y2="426" stroke="#000" stroke-width="1.3"/>
<line x1="55.199999999999996" y1="419.3" x2="70.39999999999999" y2="419.3" stroke="#000" stroke-width="1.3"/>
<rect x="48.9" y="426.1" width="27.6" height="34.299999999999955" fill="#fff" stroke="#000" stroke-width="1.5"/>
<line x1="106.2" y1="441.8" x2="106.2" y2="446" stroke="#000" stroke-width="1.3"/>
<line x1="98.5" y1="441.8" x2="113.9" y2="441.8" stroke="#000" stroke-width="1.3"/>
<rect x="91.25" y="445.5" width="30" height="14.899999999999977" fill="#000" stroke="none" stroke-width="0"/>
<line x1="150" y1="353" x2="150" y2="359" stroke="#000" stroke-width="1.3"/>
<line x1="142.5" y1="353" x2="157.5" y2="353" stroke="#000" stroke-width="1.3"/>
<rect x="135.7" y="359.3" width="28.6" height="101.09999999999997" fill="#fff" stroke="#000" stroke-width="1.5"/>
<rect x="133" y="408" width="34" height="8.0" fill="#fff" stroke="none" stroke-width="0"/>
<line x1="194.1" y1="388.75" x2="194.1" y2="390.5" stroke="#000" stroke-width="1.3"/>
<line x1="186.2" y1="388.75" x2="202.0" y2="388.75" stroke="#000" stroke-width="1.3"/>
<rect x="178.75" y="390" width="30.75" height="70.39999999999998" fill="#000" stroke="none" stroke-width="0"/>
<rect x="176" y="408" width="36" height="8.0" fill="#fff" stroke="none" stroke-width="0"/>
<path d="M64.4 413 V402.5 H106.2 V437" fill="none" stroke="#000" stroke-width="0.95"/>
<path d="M156.6 346.2 V336.2 H198.3 V371.2" fill="none" stroke="#000" stroke-width="0.95"/>
<circle cx="64.8" cy="395.2" r="1.35" fill="#111"/>
<circle cx="70" cy="395.2" r="1.35" fill="#111"/>
<line x1="75.2" y1="387.3" x2="75.2" y2="396.59999999999997" stroke="#000" stroke-width="1.0"/>
<path d="M73.3 394.0 L75.2 397.2 L77.10000000000001 394.0" fill="none" stroke="#000" stroke-width="1"/>
<text x="79.0" y="396.9" font-size="8.5" font-weight="bold" text-anchor="start" fill="#000">45%</text>
<circle cx="156.3" cy="326.1" r="1.35" fill="#111"/>
<circle cx="162.1" cy="326.1" r="1.35" fill="#111"/>
<line x1="166.5" y1="322" x2="166.5" y2="330.9" stroke="#000" stroke-width="1.0"/>
<path d="M164.6 328.3 L166.5 331.5 L168.4 328.3" fill="none" stroke="#000" stroke-width="1"/>
<text x="169.7" y="330.3" font-size="8.5" font-weight="bold" text-anchor="start" fill="#000">55%</text>
<text x="18.0" y="474.9" font-size="8.6" font-weight="bold" text-anchor="start" fill="#000">5-FU</text>
<text x="64.2" y="471.5" font-size="8.3" font-weight="bold" text-anchor="middle" fill="#000">-</text>
<text x="106.3" y="472.5" font-size="8.3" font-weight="bold" text-anchor="middle" fill="#000">+</text>
<text x="149.3" y="471.5" font-size="8.3" font-weight="bold" text-anchor="middle" fill="#000">-</text>
<text x="187.5" y="472.5" font-size="8.3" font-weight="bold" text-anchor="middle" fill="#000">+</text>
<line x1="57.8" y1="477.3" x2="109.5" y2="477.3" stroke="#777" stroke-width="0.6"/>
<line x1="143.75" y1="477.3" x2="193.75" y2="477.3" stroke="#777" stroke-width="0.6"/>
<text x="83.5" y="487.6" font-size="7.5" font-weight="bold" text-anchor="middle" fill="#000">Control</text>
<text x="166.6" y="486.3" font-size="7.4" font-weight="bold" text-anchor="middle" fill="#000">Leukemia</text>
</svg></body></html>
